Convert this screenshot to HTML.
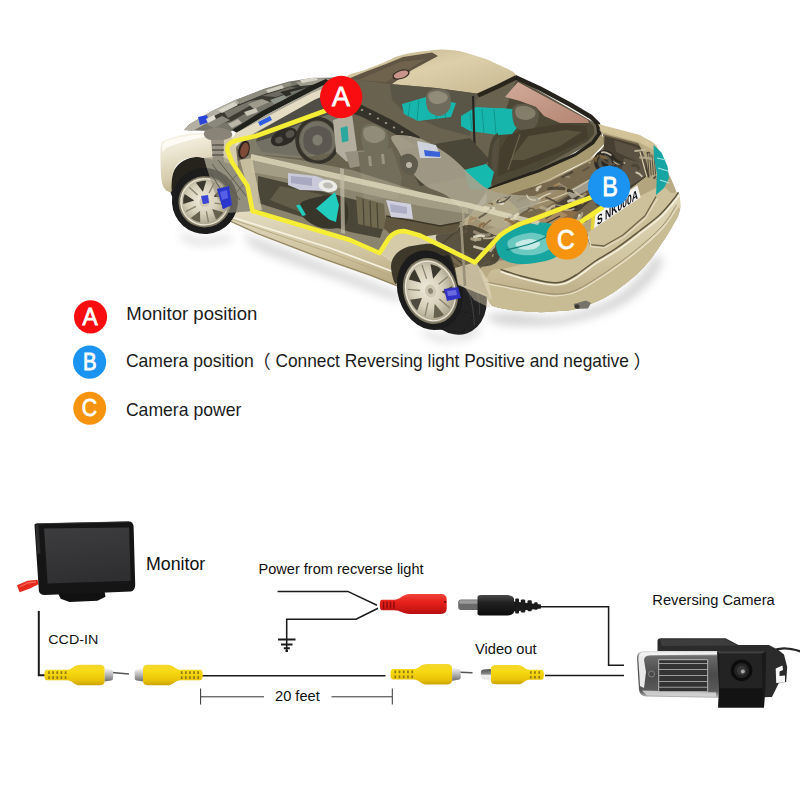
<!DOCTYPE html>
<html lang="en">
<head>
<meta charset="utf-8">
<title>Reversing camera wiring diagram</title>
<style>
html,body{margin:0;padding:0;background:#fff;}
body{width:800px;height:800px;overflow:hidden;font-family:"Liberation Sans",sans-serif;}
svg{display:block;}
.lg{font-family:"Liberation Sans",sans-serif;font-size:18.2px;fill:#1c1c1c;}
.cj{font-family:"Liberation Sans","Noto Sans CJK SC",sans-serif;}
.dg{font-family:"Liberation Sans",sans-serif;fill:#111;}
.bd{font-family:"Liberation Sans",sans-serif;fill:#fff;stroke:#fff;stroke-width:0.8;text-anchor:middle;}
</style>
</head>
<body>
<svg width="800" height="800" viewBox="0 0 800 800">
<defs>
<linearGradient id="gy" x1="0" y1="0" x2="0" y2="1">
<stop offset="0" stop-color="#f3d730"/><stop offset="0.35" stop-color="#f7da12"/><stop offset="0.75" stop-color="#eac408"/><stop offset="1" stop-color="#c9a306"/>
</linearGradient>
<linearGradient id="gr" x1="0" y1="0" x2="0" y2="1">
<stop offset="0" stop-color="#f0453a"/><stop offset="0.4" stop-color="#e8211c"/><stop offset="1" stop-color="#b90f10"/>
</linearGradient>
<linearGradient id="gk" x1="0" y1="0" x2="0" y2="1">
<stop offset="0" stop-color="#4a4a4a"/><stop offset="0.35" stop-color="#232323"/><stop offset="1" stop-color="#0c0c0c"/>
</linearGradient>
<linearGradient id="gs" x1="0" y1="0" x2="0" y2="1">
<stop offset="0" stop-color="#f4f4f4"/><stop offset="0.45" stop-color="#bdbdbd"/><stop offset="1" stop-color="#6e6e6e"/>
</linearGradient>
<g id="rca">
<path d="M2 -5.200 L22 -5.200 C28 -5.200 29 -10.300 36 -10.300 L55 -10.300 Q60.500 -10.300 60.500 -6 L60.500 6 Q60.500 10.300 55 10.300 L36 10.300 C29 10.300 28 5.200 22 5.200 L2 5.200 Q-0.500 5.200 -0.500 0 Q-0.500 -5.200 2 -5.200 Z" fill="url(#gy)"/>
<g stroke="#8f7a14" stroke-width="1.700">
<path d="M4.200 -3.700V-1M8.400 -3.700V-1M12.600 -3.700V-1M16.800 -3.700V-1M21 -3.700V-1"/>
<path d="M4.200 1.300V4M8.400 1.300V4M12.600 1.300V4M16.800 1.300V4M21 1.300V4"/>
</g>
<path d="M60.500 -6.500 L67 -5.500 Q69 -5 69 -3 L69 3 Q69 5 67 5.500 L60.500 6.500 Z" fill="url(#gs)"/>
</g>
<linearGradient id="glens" x1="0" y1="0" x2="0" y2="1">
<stop offset="0" stop-color="#e8e8e8"/><stop offset="0.12" stop-color="#6a6a6a"/><stop offset="0.5" stop-color="#4a4a4a"/><stop offset="0.85" stop-color="#5a5a5a"/><stop offset="1" stop-color="#c9c9c9"/>
</linearGradient>
<filter id="blur5" x="-20%" y="-20%" width="140%" height="140%"><feGaussianBlur stdDeviation="5"/></filter>
<filter id="soft" x="-5%" y="-5%" width="110%" height="110%"><feGaussianBlur stdDeviation="0.55"/></filter>
<linearGradient id="groof" x1="0" y1="0" x2="1" y2="1">
<stop offset="0" stop-color="#c0b18a"/><stop offset="0.45" stop-color="#dccfaa"/><stop offset="1" stop-color="#c6b78f"/>
</linearGradient>
<linearGradient id="gbody" x1="0" y1="0" x2="0" y2="1">
<stop offset="0" stop-color="#e0d7b8"/><stop offset="0.5" stop-color="#d3c8a4"/><stop offset="1" stop-color="#b5a67e"/>
</linearGradient>
<linearGradient id="gsill" x1="0" y1="0" x2="0" y2="1">
<stop offset="0" stop-color="#e3dcc2"/><stop offset="0.6" stop-color="#cdc19c"/><stop offset="1" stop-color="#b3a57c"/>
</linearGradient>
<linearGradient id="gfender" x1="0" y1="0" x2="0.3" y2="1">
<stop offset="0" stop-color="#fbf9f1"/><stop offset="0.35" stop-color="#ece6d2"/><stop offset="0.75" stop-color="#d6ccac"/><stop offset="1" stop-color="#bdaf88"/>
</linearGradient>
<radialGradient id="grim" cx="0.45" cy="0.45" r="0.55">
<stop offset="0" stop-color="#efeadb"/><stop offset="0.55" stop-color="#d6cfb9"/><stop offset="1" stop-color="#a8a089"/>
</radialGradient>
<clipPath id="cfw"><path d="M160 150 L171 184 L172.500 176 L176 166 L184 159.500 L196 157 L207 158.500 L222 157 L234 166 L240 186 L241 214 L236 226 L240 260 L150 260 Z"/></clipPath>
<clipPath id="crw"><path d="M380 262 L394 266 L397 256 L404 249 L415 245.500 L430 244 L445 248 L452 262 L457 283 L490 297 L500 300 L500 340 L380 340 Z"/></clipPath>
<g id="fwheel" clip-path="url(#cfw)"><g transform="rotate(-4 204.7 201.8)"><ellipse cx="205" cy="201" rx="33" ry="33" fill="#1a1a1a"/><ellipse cx="204.7" cy="201.8" rx="26.3" ry="25.6" fill="#7f7864"/><ellipse cx="204.7" cy="201.8" rx="24.721999999999998" ry="24.064" fill="url(#grim)"/><path d="M211.7 209.4 L222.6 213.5 L221.3 215.2 L219.9 216.7 L218.3 218.1 L216.6 219.3 L214.8 220.3 Z" fill="#66614f"/><path d="M205.7 211.5 L207.0 222.7" stroke="#8a836e" stroke-width="1.3"/><path d="M199.4 210.7 L198.8 222.0 L196.8 221.3 L194.8 220.5 L193.0 219.4 L191.3 218.3 L189.7 216.9 Z" fill="#66614f"/><path d="M195.6 205.8 L185.0 210.3" stroke="#8a836e" stroke-width="1.3"/><path d="M194.4 199.7 L183.1 202.5 L183.2 200.5 L183.4 198.4 L183.8 196.4 L184.5 194.5 L185.3 192.6 Z" fill="#3b382f"/><path d="M198.0 194.6 L190.3 186.2" stroke="#8a836e" stroke-width="1.3"/><path d="M203.6 191.6 L197.3 182.1 L199.3 181.5 L201.4 181.1 L203.5 180.8 L205.6 180.8 L207.7 181.0 Z" fill="#3b382f"/><path d="M209.7 193.4 L215.5 183.6" stroke="#8a836e" stroke-width="1.3"/><path d="M214.3 197.6 L221.7 188.9 L222.9 190.6 L223.9 192.3 L224.8 194.2 L225.5 196.2 L225.9 198.2 Z" fill="#3b382f"/><path d="M214.5 203.8 L225.8 206.2" stroke="#8a836e" stroke-width="1.3"/><ellipse cx="204.7" cy="201.8" rx="23.67" ry="23.040000000000003" fill="none" stroke="#f3efe2" stroke-width="1.1" opacity="0.9"/><ellipse cx="204.7" cy="201.8" rx="5.260000000000001" ry="5.120000000000001" fill="#cfc8b2"/><ellipse cx="204.7" cy="201.8" rx="2.367" ry="2.304" fill="#8d8674"/></g><path d="M217 189 L229 186 L232 205 L223 209 Z" fill="#2b35cc"/><path d="M201 196 L208 195 L209 203 L203 204 Z" fill="#3a45d8"/></g>
<g id="rwheel" clip-path="url(#crw)"><g transform="rotate(-18 454 295)"><ellipse cx="454" cy="295" rx="32" ry="40.500" fill="#202020"/></g><path d="M436 329 L462 333 L474 314 L444 308 Z" fill="#202020"/><g transform="rotate(-18 430.5 291)"><ellipse cx="430" cy="290" rx="32" ry="40.5" fill="#1a1a1a"/><ellipse cx="430.5" cy="291" rx="27" ry="33.5" fill="#7f7864"/><ellipse cx="430.5" cy="291" rx="25.38" ry="31.49" fill="url(#grim)"/><path d="M440.8 295.1 L452.6 292.9 L452.3 295.6 L451.9 298.2 L451.2 300.8 L450.3 303.2 L449.3 305.6 Z" fill="#4f4b3f"/><path d="M436.5 301.3 L443.5 313.2" stroke="#8a836e" stroke-width="1.3"/><path d="M430.5 304.4 L435.9 317.7 L433.7 318.2 L431.6 318.4 L429.4 318.4 L427.3 318.2 L425.1 317.7 Z" fill="#66614f"/><path d="M424.5 301.3 L417.5 313.2" stroke="#8a836e" stroke-width="1.3"/><path d="M420.2 295.1 L411.7 305.6 L410.7 303.2 L409.8 300.8 L409.1 298.2 L408.7 295.6 L408.4 292.9 Z" fill="#4f4b3f"/><path d="M420.7 287.1 L409.4 282.5" stroke="#8a836e" stroke-width="1.3"/><path d="M424.2 280.2 L413.5 273.3 L415.0 271.4 L416.6 269.6 L418.4 268.0 L420.2 266.7 L422.2 265.5 Z" fill="#3b382f"/><path d="M430.5 278.3 L430.5 263.5" stroke="#8a836e" stroke-width="1.3"/><path d="M436.8 280.2 L438.8 265.5 L440.8 266.7 L442.6 268.0 L444.4 269.6 L446.0 271.4 L447.5 273.3 Z" fill="#3b382f"/><path d="M440.3 287.1 L451.6 282.5" stroke="#8a836e" stroke-width="1.3"/><ellipse cx="430.5" cy="291" rx="24.3" ry="30.150000000000002" fill="none" stroke="#f3efe2" stroke-width="1.1" opacity="0.9"/><ellipse cx="430.5" cy="291" rx="5.4" ry="6.7" fill="#cfc8b2"/><ellipse cx="430.5" cy="291" rx="2.4299999999999997" ry="3.0149999999999997" fill="#8d8674"/></g><path d="M444 289 L458 287 L461 298 L447 301 Z" fill="#3232c4"/><path d="M447 291 L456 290 L457 295 L448 296 Z" fill="#6a6ae0"/><g fill="none" stroke="#3a3a3a" stroke-width="1.3" transform="rotate(-18 454 295)"><path d="M472 270 Q482 296 472 322"/><path d="M464 264 Q474 296 464 330"/></g></g>
<linearGradient id="gpink" x1="0" y1="0" x2="1" y2="1"><stop offset="0" stop-color="#d2aa9a"/><stop offset="1" stop-color="#b48572"/></linearGradient>
<clipPath id="ctrunk"><path d="M442 238 L470 212 L489 203 L550 182 L592 161 L604 146 L603 134 L638 143 L651 153 L657 180 L646 177 L590 214 L587 222 L560 230 L540 222 L512 228 L497 238 L492 262 L478 270 L458 286 L450 262 Z"/></clipPath>
<linearGradient id="gscreen" x1="0" y1="0" x2="0.2" y2="1"><stop offset="0" stop-color="#3d3d40"/><stop offset="1" stop-color="#2f2f31"/></linearGradient>
<g id="rca2">
<path d="M2 -5.200 L14 -5.200 C19 -5.200 20 -10 26 -10 L47 -10 Q52.500 -10 52.500 -6 L52.500 6 Q52.500 10 47 10 L26 10 C20 10 19 5.200 14 5.200 L2 5.200 Q-0.500 5.200 -0.500 0 Q-0.500 -5.200 2 -5.200 Z" fill="url(#gy)"/>
<g stroke="#8f7a14" stroke-width="1.700">
<path d="M4.200 -3.700V-1M8.400 -3.700V-1M12.600 -3.700V-1"/>
<path d="M4.200 1.300V4M8.400 1.300V4M12.600 1.300V4"/>
</g>
<path d="M52.500 -6 L60 -5.500 Q62.500 -5 62.500 -3 L62.500 2.500 Q62.500 4.500 60 4.800 L52.500 5.500 Z" fill="url(#gs2)"/>
</g>
<linearGradient id="gs2" x1="0" y1="0" x2="0" y2="1"><stop offset="0" stop-color="#4a4a4a"/><stop offset="0.45" stop-color="#8a8a8a"/><stop offset="0.6" stop-color="#f2f2f2"/><stop offset="1" stop-color="#e2e2e2"/></linearGradient>
</defs>
<rect width="800" height="800" fill="#fff"/>
<g id="car">
<g filter="url(#blur5)">
<path d="M246.0 234.0 C246.7 232.3 248.0 234.7 262.0 240.0 C276.0 245.3 307.7 257.3 330.0 266.0 C352.3 274.7 385.0 286.3 396.0 292.0 C407.0 297.7 407.0 302.5 396.0 300.0 C385.0 297.5 353.0 285.3 330.0 277.0 C307.0 268.7 272.0 257.2 258.0 250.0 C244.0 242.8 245.3 235.7 246.0 234.0 Z" fill="#d9d9d9" />
<path d="M486.0 316.0 C486.7 314.0 497.7 313.0 510.0 313.0 C522.3 313.0 543.3 318.2 560.0 316.0 C576.7 313.8 596.7 306.7 610.0 300.0 C623.3 293.3 632.3 283.3 640.0 276.0 C647.7 268.7 652.3 258.3 656.0 256.0 C659.7 253.7 663.3 257.3 662.0 262.0 C660.7 266.7 655.7 276.3 648.0 284.0 C640.3 291.7 630.3 301.3 616.0 308.0 C601.7 314.7 580.3 321.2 562.0 324.0 C543.7 326.8 518.7 326.3 506.0 325.0 C493.3 323.7 485.3 318.0 486.0 316.0 Z" fill="#d4d4d4" />
<path d="M182.0 233.0 C184.7 232.8 192.3 238.5 200.0 239.0 C207.7 239.5 223.0 235.7 228.0 236.0 C233.0 236.3 234.7 239.5 230.0 241.0 C225.3 242.5 207.7 245.2 200.0 245.0 C192.3 244.8 187.0 242.0 184.0 240.0 C181.0 238.0 179.3 233.2 182.0 233.0 Z" fill="#dcdcdc" />
<path d="M420.0 330.0 C421.7 329.3 440.0 337.7 450.0 337.0 C460.0 336.3 476.7 326.0 480.0 326.0 C483.3 326.0 476.7 334.5 470.0 337.0 C463.3 339.5 448.3 342.2 440.0 341.0 C431.7 339.8 418.3 330.7 420.0 330.0 Z" fill="#d0d0d0" />
</g>
<g filter="url(#soft)">
<path d="M184.0 130.0 L189.0 124.5 L212.0 111.0 L234.0 100.5 L265.0 88.5 L289.0 81.5 L312.0 78.0 L335.0 77.5 L322.0 92.0 L300.0 98.0 L280.0 104.0 L262.0 112.0 L238.0 128.0 L230.0 132.0 L208.0 131.0 Z" fill="#76746a" />
<path d="M184.0 130.0 L189.0 124.5 L212.0 111.0 L234.0 100.5 L250.0 95.0 L254.0 98.5 L236.0 107.0 L216.0 118.0 L200.0 127.0 L192.0 131.0 Z" fill="#b3b0a3" />
<path d="M214.0 116.0 L240.0 103.0 L270.0 92.0 L300.0 84.0 L318.0 81.0 L310.0 89.0 L280.0 98.0 L255.0 108.0 L232.0 121.0 L216.0 125.0 Z" fill="#3a3a33" />
<path d="M224.0 112.0 L250.0 101.0 L262.0 99.0 L246.0 108.0 L228.0 118.0 Z" fill="#77756a" />
<path d="M262.0 96.0 L290.0 87.0 L300.0 88.0 L276.0 97.0 Z" fill="#6c6a60" />
<path d="M198.0 117.0 L207.0 115.0 L209.0 122.0 L200.0 125.0 Z" fill="#2a45d8" />
<path d="M236.0 100.0 L262.0 90.0 L290.0 82.0 L292.0 85.0 L264.0 94.0 L240.0 104.0 Z" fill="#8f8d80" />
<path d="M296.0 82.0 L320.0 78.0 L330.0 79.0 L322.0 84.0 L300.0 86.0 Z" fill="#a19e90" />
<path d="M206.0 124.0 L222.0 116.0 L230.0 120.0 L214.0 128.0 Z" fill="#8a887b" />
<path d="M248.0 104.0 L262.0 99.0 L270.0 102.0 L254.0 109.0 Z" fill="#9e9b8d" />
<path d="M280.0 92.0 L300.0 87.0 L304.0 90.0 L286.0 96.0 Z" fill="#2e2e28" />
<path d="M244.0 112.0 L256.0 108.0 L258.0 112.0 L247.0 116.0 Z" fill="#c9c6b8" />
<path d="M218.0 110.0 L234.0 102.0 L238.0 105.0 L222.0 113.0 Z" fill="#d5d2c6" />
<path d="M266.0 90.0 L282.0 85.0 L284.0 88.0 L268.0 93.0 Z" fill="#cfccbf" />
<path d="M300.0 80.0 L316.0 77.0 L318.0 80.0 L302.0 83.0 Z" fill="#d8d5c8" />
<path d="M228.0 124.0 L238.0 119.0 L242.0 123.0 L232.0 128.0 Z" fill="#b9b6a8" />
<path d="M270.0 100.0 L284.0 95.0 L288.0 99.0 L274.0 104.0 Z" fill="#8f9488" />
<path d="M290.0 92.0 L306.0 88.0 L308.0 92.0 L292.0 96.0 Z" fill="#6f7468" />
<path d="M206.0 119.0 L214.0 115.0 L216.0 119.0 L208.0 123.0 Z" fill="#e2dfd4" />
<path d="M232.0 130.0 L262.0 111.0 L310.0 86.0 L326.0 79.0 L330.0 82.0 L312.0 91.0 L266.0 115.0 L237.0 133.0 Z" fill="#23231f" />
<path d="M236.0 133.0 L266.0 115.0 L312.0 91.0 L330.0 82.0 L332.0 85.0 L313.0 95.0 L268.0 119.0 L240.0 136.0 Z" fill="#a5a294" />
<path d="M347.0 77.0 C347.0 73.6 357.1 73.0 366.0 69.5 C374.9 66.0 376.6 65.4 385.0 62.0 C393.4 58.6 391.5 57.7 402.0 55.0 C412.5 52.3 418.8 51.7 430.0 50.5 C441.2 49.3 440.7 49.2 450.0 50.0 C459.3 50.8 459.0 50.7 470.0 54.0 C481.0 57.3 486.0 58.6 497.0 64.0 C508.0 69.4 516.3 71.6 517.0 77.0 C517.7 82.4 508.9 82.8 500.0 87.0 C491.1 91.2 493.9 94.3 479.0 95.0 C464.1 95.7 456.8 92.3 436.0 90.0 C415.2 87.7 406.3 86.4 390.0 85.0 C373.7 83.6 376.0 85.9 366.0 84.0 C356.0 82.1 347.0 80.4 347.0 77.0 Z" fill="url(#groof)" />
<path d="M349.0 78.5 L366.0 71.5 L386.0 64.0 L403.0 57.0 L432.0 52.5 L438.0 56.0 L412.0 70.0 L392.0 84.0 L368.0 84.0 L354.0 82.0 Z" fill="#5f5442" />
<path d="M358.0 80.0 L400.0 62.0 L426.0 59.0 L404.0 72.0 L386.0 82.0 Z" fill="#6f634d" />
<ellipse cx="401.0" cy="74.5" rx="9.0" ry="4.6" fill="#3a2f28" transform="rotate(-18 401.0 74.5)" />
<ellipse cx="401.0" cy="74.5" rx="7.5" ry="3.4" fill="#c9958a" transform="rotate(-18 401.0 74.5)" />
<path d="M232.0 142.0 L312.0 96.0 L345.0 78.0 L390.0 84.0 L436.0 88.0 L480.0 94.0 L517.0 78.0 L600.0 126.0 L600.0 138.0 L540.0 172.0 L488.0 190.0 L470.0 215.0 L455.0 232.0 L420.0 237.0 L405.0 231.0 L390.0 238.0 L380.0 253.0 L350.0 240.0 L252.0 211.0 L247.0 186.0 L232.0 160.0 L228.0 150.0 Z" fill="#686250" />
<path d="M390.0 84.0 L436.0 88.0 L480.0 94.0 L476.0 100.0 L470.0 136.0 L440.0 128.0 L404.0 112.0 L392.0 100.0 Z" fill="#5a5646" />
<path d="M238.0 139.0 L312.0 97.0 L340.0 84.0 L356.0 98.0 L352.0 118.0 L348.0 150.0 L300.0 158.0 L251.0 154.0 L236.0 148.0 Z" fill="#807b6b" />
<path d="M258.0 132.0 L312.0 100.0 L338.0 91.0 L346.0 103.0 L334.0 113.0 L300.0 124.0 L270.0 138.0 L256.0 142.0 Z" fill="#504d44" />
<path d="M256.0 142.0 L270.0 138.0 L300.0 124.0 L334.0 113.0 L340.0 122.0 L338.0 152.0 L300.0 156.0 L262.0 152.0 Z" fill="#727062" />
<ellipse cx="284.0" cy="137.0" rx="14.0" ry="8.0" fill="#2f2c26" transform="rotate(-25 284.0 137.0)" />
<ellipse cx="279.0" cy="140.0" rx="4.0" ry="3.2" fill="#55524a" transform="rotate(-25 279.0 140.0)" />
<ellipse cx="290.0" cy="134.0" rx="4.5" ry="3.6" fill="#55524a" transform="rotate(-25 290.0 134.0)" />
<ellipse cx="317.5" cy="140.5" rx="20.0" ry="21.5" fill="none" transform="rotate(-8 317.5 140.5)" stroke="#36332b" stroke-width="4.4"/>
<ellipse cx="317.5" cy="140.5" rx="18.0" ry="19.5" fill="none" transform="rotate(-8 317.5 140.5)" stroke="#6a6657" stroke-width="0.9"/>
<path d="M305.0 132.0 C307.2 128.2 313.8 126.0 318.0 126.0 C322.2 126.0 327.8 128.3 330.0 132.0 C332.2 135.7 333.0 144.2 331.0 148.0 C329.0 151.8 322.3 154.8 318.0 155.0 C313.7 155.2 307.2 152.8 305.0 149.0 C302.8 145.2 302.8 135.8 305.0 132.0 Z" fill="#5c5951" />
<ellipse cx="317.5" cy="140.0" rx="5.0" ry="5.5" fill="#7f7b70" />
<path d="M333.0 120.0 L352.0 114.0 L357.0 150.0 L347.0 162.0 L336.0 152.0 Z" fill="#b3ae9d" />
<path d="M340.5 128.0 L347.5 126.0 L348.5 141.0 L342.0 142.5 Z" fill="#2aa79e" />
<path d="M345.0 152.0 L368.0 150.0 L372.0 164.0 L350.0 168.0 Z" fill="#979080" />
<path d="M229.0 143.0 L236.0 133.0 L312.0 93.0 L332.0 85.0 L346.0 77.0 L350.0 80.0 L334.0 91.0 L314.0 100.0 L244.0 139.0 L236.0 147.0 Z" fill="#e4dcc2" />
<path d="M258.0 122.0 L270.0 116.0 L272.0 120.0 L260.0 126.0 Z" fill="#2f5fe0" />
<ellipse cx="244.0" cy="150.0" rx="5.5" ry="9.5" fill="#2c211b" transform="rotate(15 244.0 150.0)" />
<ellipse cx="244.5" cy="150.0" rx="4.0" ry="7.5" fill="#7d4b38" transform="rotate(15 244.5 150.0)" />
<path d="M402.0 104.0 L426.0 97.0 L456.0 103.0 L451.0 117.0 L418.0 121.0 L404.0 114.0 Z" fill="#17b6ac" />
<path d="M461.0 116.0 L476.0 107.0 L512.0 109.0 L520.0 118.0 L518.0 129.0 L498.0 135.0 L470.0 131.0 L461.0 126.0 Z" fill="#17b6ac" />
<path d="M410.0 103.0 L408.0 117.0" fill="none" stroke="#0f968d" stroke-width="1" />
<path d="M419.0 100.0 L417.0 120.0" fill="none" stroke="#0f968d" stroke-width="1" />
<path d="M438.0 100.0 L436.0 119.0" fill="none" stroke="#0f968d" stroke-width="1" />
<path d="M447.0 102.0 L445.0 118.0" fill="none" stroke="#0f968d" stroke-width="1" />
<path d="M470.0 113.0 L472.0 130.0" fill="none" stroke="#0f968d" stroke-width="1" />
<path d="M482.0 109.0 L484.0 133.0" fill="none" stroke="#0f968d" stroke-width="1" />
<path d="M494.0 109.0 L496.0 134.0" fill="none" stroke="#0f968d" stroke-width="1" />
<path d="M506.0 110.0 L508.0 131.0" fill="none" stroke="#0f968d" stroke-width="1" />
<path d="M427.0 93.0 C428.7 89.5 434.3 89.0 438.0 89.0 C441.7 89.0 447.0 89.8 449.0 93.0 C451.0 96.2 451.5 104.2 450.0 108.0 C448.5 111.8 443.7 115.7 440.0 116.0 C436.3 116.3 430.2 113.8 428.0 110.0 C425.8 106.2 425.3 96.5 427.0 93.0 Z" fill="#6e6a5b" />
<path d="M429.0 94.0 C430.3 92.3 435.0 90.8 438.0 91.0 C441.0 91.2 445.7 93.3 447.0 95.0 C448.3 96.7 447.7 99.5 446.0 101.0 C444.3 102.5 439.7 104.0 437.0 104.0 C434.3 104.0 431.3 102.7 430.0 101.0 C428.7 99.3 427.7 95.7 429.0 94.0 Z" fill="#918c7a" />
<path d="M473.0 96.0 L474.5 146.0" fill="none" stroke="#2a2720" stroke-width="2.2" />
<path d="M362.0 128.0 C363.7 123.7 370.0 123.7 374.0 124.0 C378.0 124.3 383.7 126.0 386.0 130.0 C388.3 134.0 389.3 143.7 388.0 148.0 C386.7 152.3 382.0 155.7 378.0 156.0 C374.0 156.3 366.7 154.7 364.0 150.0 C361.3 145.3 360.3 132.3 362.0 128.0 Z" fill="#726e5c" />
<path d="M364.0 129.0 C365.5 126.8 370.7 125.7 374.0 126.0 C377.3 126.3 382.3 128.8 384.0 131.0 C385.7 133.2 385.7 137.0 384.0 139.0 C382.3 141.0 377.2 143.0 374.0 143.0 C370.8 143.0 366.7 141.3 365.0 139.0 C363.3 136.7 362.5 131.2 364.0 129.0 Z" fill="#918c79" />
<path d="M358.0 152.0 L392.0 148.0 L402.0 178.0 L398.0 198.0 L364.0 200.0 Z" fill="#736e5c" />
<path d="M368.0 156.0 L371.0 156.0 L372.0 166.0 L369.0 166.0 Z" fill="#9a9482" />
<path d="M381.0 154.0 L384.0 154.0 L385.0 164.0 L382.0 164.0 Z" fill="#9a9482" />
<path d="M400.0 150.0 L470.0 138.0 L490.0 160.0 L470.0 176.0 L420.0 186.0 Z" fill="#4b4638" />
<path d="M494.0 136.0 C499.3 129.3 513.3 129.3 520.0 130.0 C526.7 130.7 532.0 133.3 534.0 140.0 C536.0 146.7 535.0 162.0 532.0 170.0 C529.0 178.0 521.7 184.3 516.0 188.0 C510.3 191.7 502.7 195.0 498.0 192.0 C493.3 189.0 488.7 179.3 488.0 170.0 C487.3 160.7 488.7 142.7 494.0 136.0 Z" fill="#4a4434" />
<path d="M496.0 140.0 C500.0 135.0 511.0 135.0 516.0 136.0 C521.0 137.0 524.7 140.3 526.0 146.0 C527.3 151.7 526.3 163.3 524.0 170.0 C521.7 176.7 516.0 183.7 512.0 186.0 C508.0 188.3 503.3 187.3 500.0 184.0 C496.7 180.7 492.7 173.3 492.0 166.0 C491.3 158.7 492.0 145.0 496.0 140.0 Z" fill="#575040" />
<path d="M464.0 170.0 L486.0 164.0 L494.0 172.0 L490.0 188.0 L470.0 190.0 Z" fill="#19b9ae" />
<path d="M517.0 80.0 L588.0 120.0 L594.0 127.0 L594.0 134.0 L588.0 141.0 L540.0 168.0 L492.0 187.0 L498.0 160.0 L500.0 134.0 L506.0 110.0 L512.0 90.0 Z" fill="#4d4634" />
<path d="M505.0 97.0 L518.0 82.0 L588.0 120.0 L589.0 123.0 L560.0 123.0 L544.0 116.0 L536.0 107.0 L520.0 101.0 Z" fill="url(#gpink)" />
<path d="M498.0 108.0 L514.0 109.0 L520.0 124.0 L512.0 134.0 L498.0 135.0 Z" fill="#17b6ac" />
<path d="M513.0 107.0 C514.8 103.3 521.8 103.5 526.0 104.0 C530.2 104.5 536.2 106.7 538.0 110.0 C539.8 113.3 538.7 120.5 537.0 124.0 C535.3 127.5 531.7 130.7 528.0 131.0 C524.3 131.3 517.5 130.0 515.0 126.0 C512.5 122.0 511.2 110.7 513.0 107.0 Z" fill="#5d5847" />
<path d="M516.0 108.0 C517.5 106.2 522.8 105.5 526.0 106.0 C529.2 106.5 533.7 109.2 535.0 111.0 C536.3 112.8 535.5 115.5 534.0 117.0 C532.5 118.5 528.8 120.0 526.0 120.0 C523.2 120.0 518.7 119.0 517.0 117.0 C515.3 115.0 514.5 109.8 516.0 108.0 Z" fill="#837d69" />
<path d="M522.0 130.0 L560.0 124.0 L586.0 126.0 L588.0 138.0 L560.0 152.0 L520.0 168.0 L498.0 176.0 L500.0 150.0 L508.0 136.0 Z" fill="#453e2d" />
<path d="M528.0 136.0 L566.0 130.0 L582.0 132.0 L560.0 146.0 L524.0 160.0 L510.0 160.0 Z" fill="#5a523d" />
<path d="M520.0 134.0 L508.0 170.0" fill="none" stroke="#6a624c" stroke-width="1.2" />
<path d="M478.0 95.5 L499.0 86.0 L516.0 77.5" fill="none" stroke="#2a261d" stroke-width="4.6" />
<path d="M515.0 77.0 L540.0 88.5 L570.0 104.5 L591.0 117.0 L598.0 124.0 L599.5 134.0 L593.0 143.0 L576.0 155.0 L540.0 171.0 L504.0 184.0 L489.0 190.0" fill="none" stroke="#25211a" stroke-width="4.4" stroke-linejoin="round"/>
<path d="M487.0 190.0 L540.0 172.0 L576.0 156.0 L594.0 144.0 L601.0 134.0 L606.0 142.0 L590.0 159.0 L550.0 179.0 L504.0 199.0 L486.0 206.0 Z" fill="#a6996f" />
<path d="M455.0 232.0 C454.0 224.2 464.5 219.8 470.0 215.0 C475.5 210.2 482.3 205.8 488.0 203.0 C493.7 200.2 493.7 202.0 504.0 198.0 C514.3 194.0 535.7 185.5 550.0 179.0 C564.3 172.5 580.7 165.2 590.0 159.0 C599.3 152.8 604.2 147.2 606.0 142.0 C607.8 136.8 595.3 128.8 601.0 128.0 C606.7 127.2 630.8 134.0 640.0 137.0 C649.2 140.0 651.3 140.2 656.0 146.0 C660.7 151.8 664.3 163.7 668.0 172.0 C671.7 180.3 676.0 189.7 678.0 196.0 C680.0 202.3 681.0 204.8 680.0 210.0 C679.0 215.2 674.7 222.0 672.0 227.0 C669.3 232.0 667.7 234.5 664.0 240.0 C660.3 245.5 654.7 254.2 650.0 260.0 C645.3 265.8 641.5 270.0 636.0 275.0 C630.5 280.0 623.0 285.8 617.0 290.0 C611.0 294.2 606.8 296.8 600.0 300.0 C593.2 303.2 582.7 307.2 576.0 309.0 C569.3 310.8 566.8 310.5 560.0 311.0 C553.2 311.5 545.0 312.5 535.0 312.0 C525.0 311.5 507.8 310.0 500.0 308.0 C492.2 306.0 492.0 307.7 488.0 300.0 C484.0 292.3 481.5 273.3 476.0 262.0 C470.5 250.7 456.0 239.8 455.0 232.0 Z" fill="#b9ab84" />
<path d="M489.0 201.0 L550.0 181.0 L592.0 160.0 L604.0 146.0 L603.0 134.0 L638.0 143.0 L651.0 153.0 L654.0 166.0 L657.0 180.0 L646.0 177.0 L590.0 214.0 L587.0 222.0 L560.0 230.0 L540.0 222.0 L512.0 228.0 L497.0 238.0 L476.0 262.0 L462.0 248.0 L470.0 215.0 Z" fill="#75684d" />
<path d="M605.0 136.0 L638.0 145.0 L650.0 155.0 L652.0 178.0 L640.0 184.0 L618.0 198.0 L598.0 206.0 L590.0 190.0 L602.0 166.0 Z" fill="#463f33" />
<ellipse cx="605.0" cy="162.0" rx="11.0" ry="12.0" fill="#2f2b25" transform="rotate(-20 605.0 162.0)" />
<path d="M614.0 140.0 L636.0 147.0 L646.0 157.0 L646.0 168.0 L634.0 160.0 L616.0 152.0 Z" fill="#5a5142" />
<ellipse cx="605.0" cy="163.0" rx="7.0" ry="8.0" fill="#57524a" transform="rotate(-20 605.0 163.0)" />
<ellipse cx="605.0" cy="163.0" rx="3.5" ry="4.0" fill="#2a2722" transform="rotate(-20 605.0 163.0)" />
<path d="M624.0 158.0 L644.0 164.0 L646.0 176.0 L630.0 186.0 L620.0 176.0 Z" fill="#5e5647" />
<path d="M556.0 204.0 L590.0 182.0 L594.0 198.0 L580.0 210.0 L556.0 222.0 L540.0 224.0 Z" fill="#4a4236" />
<path d="M516.0 226.0 L552.0 206.0 L578.0 212.0 L560.0 230.0 L530.0 242.0 L503.0 246.0 Z" fill="#8a6c48" />
<path d="M532.0 220.0 L556.0 209.0 L568.0 215.0 L546.0 227.0 Z" fill="#a98b63" />
<path d="M528.0 198.0 L560.0 186.0 L572.0 192.0 L548.0 206.0 L528.0 212.0 Z" fill="#9b8a68" />
<path d="M498.0 206.0 L528.0 196.0 L530.0 210.0 L508.0 222.0 L492.0 226.0 Z" fill="#6b6048" />
<path d="M480.0 232.0 L506.0 224.0 L512.0 236.0 L490.0 250.0 L476.0 252.0 Z" fill="#988e78" />
<path d="M500.0 240.0 L540.0 232.0 L556.0 244.0 L520.0 258.0 L490.0 262.0 Z" fill="#8d8676" />
<path d="M566.0 192.0 L588.0 180.0 L592.0 188.0 L572.0 199.0 Z" fill="#a39c8c" />
<path d="M500.0 214.0 C510.0 211.0 544.0 202.3 560.0 196.0 C576.0 189.7 590.0 179.3 596.0 176.0" fill="none" stroke="#cfc6a8" stroke-width="1.2" />
<path d="M486.0 244.0 C491.7 242.7 507.7 240.7 520.0 236.0 C532.3 231.3 553.3 219.3 560.0 216.0" fill="none" stroke="#3d362b" stroke-width="1.2" />
<path d="M598.0 124.0 L640.0 135.0 L656.0 145.0 L660.0 152.0 L653.0 152.0 L638.0 142.0 L602.0 132.0 Z" fill="#d2c399" />
<path d="M638.0 142.0 L654.0 150.0 L660.0 178.0 L650.0 180.0 L646.0 160.0 Z" fill="#bcae86" opacity="0.9"/>
<path d="M640.0 152.0 L647.0 177.0" fill="none" stroke="#d9cda6" stroke-width="1.2" />
<path d="M647.5 152.0 L649.0 176.0" fill="none" stroke="#4a4336" stroke-width="0.9" />
<path d="M649.7 153.2 L651.2 175.5" fill="none" stroke="#4a4336" stroke-width="0.9" />
<path d="M651.9 154.4 L653.4 175.0" fill="none" stroke="#4a4336" stroke-width="0.9" />
<path d="M654.1 155.6 L655.6 174.5" fill="none" stroke="#4a4336" stroke-width="0.9" />
<path d="M587.0 222.0 L646.0 177.0 L657.0 180.0 L671.0 193.0 L678.5 192.4 L672.5 200.6 L658.8 215.8 L639.5 231.0 L617.5 247.4 L595.5 261.0 L576.0 275.0 L562.5 281.8 L548.8 282.3 L521.0 276.0 L500.6 269.4 L520.0 265.0 L550.0 259.0 L562.0 246.0 L566.0 232.0 Z" fill="#cdc19b" />
<path d="M587.0 222.0 L646.0 177.0 L657.0 180.0 L660.0 186.0 L640.0 196.0 L600.0 224.0 L580.0 238.0 L566.0 236.0 Z" fill="#b3a57d" />
<path d="M587.0 233.6 L590.0 244.6 L603.8 246.0 L623.0 235.0 L645.0 215.8 L656.0 196.5" fill="none" stroke="#6f6348" stroke-width="1.3" stroke-linejoin="round"/>
<path d="M588.0 235.6 L591.0 246.6 L604.5 248.0 L624.0 237.0 L646.0 217.8 L657.5 198.5" fill="none" stroke="#e6dec4" stroke-width="1.2" stroke-linejoin="round"/>
<path d="M352.0 103.0 L362.0 105.0 L392.0 120.0 L420.0 137.0 L416.0 146.0 L388.0 130.0 L360.0 116.0 L350.0 113.0 Z" fill="#35322a" />
<ellipse cx="362.0" cy="110.0" rx="1.3" ry="1.1" fill="#9c9684" />
<ellipse cx="370.0" cy="114.0" rx="1.3" ry="1.1" fill="#9c9684" />
<ellipse cx="378.0" cy="118.5" rx="1.3" ry="1.1" fill="#9c9684" />
<ellipse cx="386.0" cy="123.0" rx="1.3" ry="1.1" fill="#9c9684" />
<ellipse cx="394.0" cy="127.5" rx="1.3" ry="1.1" fill="#9c9684" />
<ellipse cx="402.0" cy="132.0" rx="1.3" ry="1.1" fill="#9c9684" />
<ellipse cx="410.0" cy="137.0" rx="1.3" ry="1.1" fill="#9c9684" />
<path d="M392.0 136.0 C395.3 134.0 408.3 134.7 418.0 138.0 C427.7 141.3 438.0 147.3 450.0 156.0 C462.0 164.7 475.0 183.0 490.0 190.0 C505.0 197.0 535.0 194.0 540.0 198.0 C545.0 202.0 526.7 209.0 520.0 214.0 C513.3 219.0 508.3 227.8 500.0 228.0 C491.7 228.2 478.8 220.3 470.0 215.0 C461.2 209.7 454.3 200.8 447.0 196.0 C439.7 191.2 432.2 190.3 426.0 186.0 C419.8 181.7 414.7 176.0 410.0 170.0 C405.3 164.0 401.0 155.7 398.0 150.0 C395.0 144.3 388.7 138.0 392.0 136.0 Z" fill="#aaa38d" opacity="0.88"/>
<path d="M417.0 141.0 L436.0 145.0 L441.0 158.0 L420.0 158.0 Z" fill="#cdd2dc" />
<path d="M424.0 150.0 L440.0 152.0 L440.0 157.0 L425.0 156.0 Z" fill="#3b62d6" />
<path d="M400.0 158.0 C401.0 155.0 407.0 153.3 410.0 154.0 C413.0 154.7 417.3 158.7 418.0 162.0 C418.7 165.3 416.3 172.3 414.0 174.0 C411.7 175.7 406.3 174.7 404.0 172.0 C401.7 169.3 399.0 161.0 400.0 158.0 Z" fill="#5f5b4e" />
<ellipse cx="409.0" cy="165.0" rx="3.0" ry="3.0" fill="#b9b5a6" />
<path d="M420.0 237.0 C422.7 235.0 448.3 234.9 455.0 232.0 C461.7 229.1 465.6 218.9 470.0 215.0 C474.4 211.1 483.5 205.3 488.0 203.0 C492.5 200.7 499.7 196.5 504.0 198.0 C508.3 199.5 520.5 208.9 520.0 214.0 C519.5 219.1 505.9 229.6 500.0 236.0 C494.1 242.4 480.0 256.7 476.0 262.0 C472.0 267.3 472.8 276.7 470.0 276.0 C467.2 275.3 459.7 260.9 455.0 257.0 C450.3 253.1 439.7 249.7 435.0 247.0 C430.3 244.3 417.3 239.0 420.0 237.0 Z" fill="#bdb18d" opacity="0.6"/>
<path d="M463.0 206.0 L465.0 268.0" fill="none" stroke="#8e876f" stroke-width="2.4" />
<path d="M455.0 232.0 L440.0 246.0" fill="none" stroke="#7a735c" stroke-width="1.5" />
<path d="M436.0 236.0 C437.3 232.2 446.3 230.8 452.0 229.0 C457.7 227.2 463.7 224.3 470.0 225.0 C476.3 225.7 484.7 230.3 490.0 233.0 C495.3 235.7 500.8 236.2 502.0 241.0 C503.2 245.8 501.3 257.7 497.0 262.0 C492.7 266.3 482.5 266.8 476.0 267.0 C469.5 267.2 463.3 265.5 458.0 263.0 C452.7 260.5 447.7 256.5 444.0 252.0 C440.3 247.5 434.7 239.8 436.0 236.0 Z" fill="#3f3829" opacity="0.82"/>
<g clip-path="url(#ctrunk)">
<path d="M537.3 228.4 Q544.2 227.3 551.0 224.8" fill="none" stroke="#c9bea0" stroke-width="3.0" stroke-linecap="round" opacity="0.85"/>
<path d="M542.3 236.0 Q542.3 235.4 548.1 234.3" fill="none" stroke="#e8e2cc" stroke-width="2.6" stroke-linecap="round" opacity="0.85"/>
<path d="M568.0 205.5 Q573.6 207.3 576.9 207.1" fill="none" stroke="#2f2a20" stroke-width="1.3" stroke-linecap="round" opacity="0.85"/>
<path d="M447.7 273.1 Q451.4 275.2 457.9 275.7" fill="none" stroke="#a98a5c" stroke-width="2.3" stroke-linecap="round" opacity="0.85"/>
<path d="M577.7 220.0 Q581.3 222.5 588.5 217.0" fill="none" stroke="#4a4132" stroke-width="2.8" stroke-linecap="round" opacity="0.85"/>
<path d="M507.8 182.2 Q512.2 178.6 512.3 176.6" fill="none" stroke="#8a6a40" stroke-width="2.1" stroke-linecap="round" opacity="0.85"/>
<path d="M646.0 268.6 Q650.8 267.1 649.1 266.2" fill="none" stroke="#e8e2cc" stroke-width="2.1" stroke-linecap="round" opacity="0.85"/>
<path d="M455.7 238.1 Q457.7 233.4 466.3 231.4" fill="none" stroke="#5e5543" stroke-width="2.9" stroke-linecap="round" opacity="0.85"/>
<path d="M465.4 184.5 Q469.3 179.9 468.5 180.5" fill="none" stroke="#2f2a20" stroke-width="1.6" stroke-linecap="round" opacity="0.85"/>
<path d="M549.4 287.9 Q554.4 285.1 561.2 283.9" fill="none" stroke="#a98a5c" stroke-width="1.2" stroke-linecap="round" opacity="0.85"/>
<path d="M625.8 286.5 Q626.3 286.9 634.5 292.4" fill="none" stroke="#9b9078" stroke-width="2.6" stroke-linecap="round" opacity="0.85"/>
<path d="M461.6 288.5 Q466.4 285.4 466.9 285.0" fill="none" stroke="#8a6a40" stroke-width="2.0" stroke-linecap="round" opacity="0.85"/>
<path d="M456.0 179.2 Q458.0 175.6 462.1 170.1" fill="none" stroke="#c9bea0" stroke-width="3.3" stroke-linecap="round" opacity="0.85"/>
<path d="M544.0 230.4 Q546.4 229.3 554.3 221.6" fill="none" stroke="#9b9078" stroke-width="1.7" stroke-linecap="round" opacity="0.85"/>
<path d="M480.8 253.5 Q490.0 252.0 491.9 244.4" fill="none" stroke="#9b9078" stroke-width="1.4" stroke-linecap="round" opacity="0.85"/>
<path d="M450.2 165.3 Q456.1 161.7 458.2 159.9" fill="none" stroke="#5e5543" stroke-width="3.0" stroke-linecap="round" opacity="0.85"/>
<path d="M568.2 191.1 Q567.7 189.4 574.1 192.0" fill="none" stroke="#2f2a20" stroke-width="2.6" stroke-linecap="round" opacity="0.85"/>
<path d="M572.4 160.4 Q577.2 158.4 578.1 163.2" fill="none" stroke="#5e5543" stroke-width="2.2" stroke-linecap="round" opacity="0.85"/>
<path d="M453.0 174.7 Q454.1 173.2 461.0 174.0" fill="none" stroke="#b5aa8c" stroke-width="3.4" stroke-linecap="round" opacity="0.85"/>
<path d="M581.2 246.8 Q581.2 239.3 588.7 239.5" fill="none" stroke="#ded6bd" stroke-width="2.7" stroke-linecap="round" opacity="0.85"/>
<path d="M647.0 153.0 Q654.2 150.3 657.7 150.5" fill="none" stroke="#4a4132" stroke-width="1.4" stroke-linecap="round" opacity="0.85"/>
<path d="M557.4 253.2 Q565.9 256.8 571.1 255.7" fill="none" stroke="#ded6bd" stroke-width="2.0" stroke-linecap="round" opacity="0.85"/>
<path d="M587.3 276.1 Q596.0 276.8 600.1 271.7" fill="none" stroke="#9b9078" stroke-width="1.2" stroke-linecap="round" opacity="0.85"/>
<path d="M582.4 203.1 Q580.4 198.4 585.0 199.9" fill="none" stroke="#8a6a40" stroke-width="3.1" stroke-linecap="round" opacity="0.85"/>
<path d="M596.6 204.4 Q602.1 206.7 608.6 203.5" fill="none" stroke="#4a4132" stroke-width="2.3" stroke-linecap="round" opacity="0.85"/>
<path d="M550.6 193.4 Q555.7 188.3 553.5 189.4" fill="none" stroke="#9b9078" stroke-width="2.7" stroke-linecap="round" opacity="0.85"/>
<path d="M544.6 275.5 Q548.3 272.8 550.3 269.9" fill="none" stroke="#ded6bd" stroke-width="2.7" stroke-linecap="round" opacity="0.85"/>
<path d="M535.0 274.8 Q536.4 274.5 542.6 275.3" fill="none" stroke="#a98a5c" stroke-width="3.1" stroke-linecap="round" opacity="0.85"/>
<path d="M522.7 231.6 Q525.3 231.7 528.0 226.4" fill="none" stroke="#3a3327" stroke-width="2.8" stroke-linecap="round" opacity="0.85"/>
<path d="M644.3 188.8 Q645.3 185.7 649.9 187.1" fill="none" stroke="#5e5543" stroke-width="2.0" stroke-linecap="round" opacity="0.85"/>
<path d="M551.8 244.1 Q558.4 244.7 563.0 248.1" fill="none" stroke="#3a3327" stroke-width="1.8" stroke-linecap="round" opacity="0.85"/>
<path d="M570.6 245.0 Q575.0 244.0 577.1 242.0" fill="none" stroke="#6e5a3a" stroke-width="1.5" stroke-linecap="round" opacity="0.85"/>
<path d="M537.8 153.5 Q540.3 146.0 548.5 145.8" fill="none" stroke="#6e5a3a" stroke-width="1.5" stroke-linecap="round" opacity="0.85"/>
<path d="M463.4 225.0 Q465.1 220.3 473.6 220.6" fill="none" stroke="#b5aa8c" stroke-width="1.8" stroke-linecap="round" opacity="0.85"/>
<path d="M593.6 255.7 Q594.3 253.9 599.4 247.7" fill="none" stroke="#2f2a20" stroke-width="2.7" stroke-linecap="round" opacity="0.85"/>
<path d="M551.9 236.0 Q560.0 237.0 563.4 231.6" fill="none" stroke="#4a4132" stroke-width="2.1" stroke-linecap="round" opacity="0.85"/>
<path d="M631.9 204.3 Q638.5 197.5 638.9 198.7" fill="none" stroke="#2f2a20" stroke-width="2.5" stroke-linecap="round" opacity="0.85"/>
<path d="M629.1 261.5 Q637.2 257.4 643.0 257.9" fill="none" stroke="#e8e2cc" stroke-width="3.1" stroke-linecap="round" opacity="0.85"/>
<path d="M611.6 279.4 Q613.0 274.6 616.0 276.3" fill="none" stroke="#8a6a40" stroke-width="2.4" stroke-linecap="round" opacity="0.85"/>
<path d="M610.0 194.9 Q615.3 194.0 623.1 199.9" fill="none" stroke="#b5aa8c" stroke-width="2.0" stroke-linecap="round" opacity="0.85"/>
<path d="M530.6 188.5 Q539.2 183.7 541.8 180.0" fill="none" stroke="#3a3327" stroke-width="1.6" stroke-linecap="round" opacity="0.85"/>
<path d="M512.0 260.3 Q514.2 260.2 516.0 256.5" fill="none" stroke="#6e5a3a" stroke-width="2.7" stroke-linecap="round" opacity="0.85"/>
<path d="M643.3 219.0 Q645.8 213.7 652.7 208.0" fill="none" stroke="#8a6a40" stroke-width="3.0" stroke-linecap="round" opacity="0.85"/>
<path d="M560.7 173.0 Q563.1 176.5 569.4 177.2" fill="none" stroke="#9b9078" stroke-width="1.7" stroke-linecap="round" opacity="0.85"/>
<path d="M622.9 285.6 Q625.4 285.5 632.6 284.8" fill="none" stroke="#2f2a20" stroke-width="1.2" stroke-linecap="round" opacity="0.85"/>
<path d="M521.1 225.4 Q523.4 230.3 525.1 227.4" fill="none" stroke="#4a4132" stroke-width="2.3" stroke-linecap="round" opacity="0.85"/>
<path d="M588.6 159.2 Q596.9 161.0 597.9 155.9" fill="none" stroke="#8a6a40" stroke-width="1.7" stroke-linecap="round" opacity="0.85"/>
<path d="M546.0 197.6 Q555.5 201.1 558.2 204.2" fill="none" stroke="#4a4132" stroke-width="1.6" stroke-linecap="round" opacity="0.85"/>
<path d="M572.8 279.5 Q571.7 277.8 578.1 280.9" fill="none" stroke="#a98a5c" stroke-width="1.2" stroke-linecap="round" opacity="0.85"/>
<path d="M501.1 251.3 Q504.4 251.3 507.6 250.0" fill="none" stroke="#2f2a20" stroke-width="2.6" stroke-linecap="round" opacity="0.85"/>
<path d="M594.3 248.2 Q599.3 245.2 602.1 237.0" fill="none" stroke="#9b9078" stroke-width="1.6" stroke-linecap="round" opacity="0.85"/>
<path d="M483.9 238.4 Q492.2 238.4 494.8 236.7" fill="none" stroke="#c9bea0" stroke-width="1.7" stroke-linecap="round" opacity="0.85"/>
<path d="M599.3 263.5 Q603.9 263.5 611.5 256.9" fill="none" stroke="#a98a5c" stroke-width="2.9" stroke-linecap="round" opacity="0.85"/>
<path d="M481.8 163.6 Q483.4 157.8 491.5 153.8" fill="none" stroke="#5e5543" stroke-width="3.0" stroke-linecap="round" opacity="0.85"/>
<path d="M530.7 260.6 Q534.7 255.8 535.7 258.7" fill="none" stroke="#a98a5c" stroke-width="2.5" stroke-linecap="round" opacity="0.85"/>
<path d="M516.9 264.9 Q521.9 264.2 524.8 266.0" fill="none" stroke="#6e5a3a" stroke-width="3.0" stroke-linecap="round" opacity="0.85"/>
<path d="M612.6 217.5 Q615.6 221.2 616.8 218.4" fill="none" stroke="#b5aa8c" stroke-width="1.5" stroke-linecap="round" opacity="0.85"/>
<path d="M479.7 178.5 Q488.6 179.0 490.7 185.9" fill="none" stroke="#3a3327" stroke-width="1.5" stroke-linecap="round" opacity="0.85"/>
<path d="M586.4 160.9 Q588.2 158.8 591.1 159.0" fill="none" stroke="#a98a5c" stroke-width="2.5" stroke-linecap="round" opacity="0.85"/>
<path d="M442.8 248.1 Q447.5 245.7 452.9 239.5" fill="none" stroke="#5e5543" stroke-width="3.2" stroke-linecap="round" opacity="0.85"/>
<path d="M570.0 163.3 Q572.4 163.1 581.3 157.4" fill="none" stroke="#6e5a3a" stroke-width="3.3" stroke-linecap="round" opacity="0.85"/>
<path d="M562.5 176.7 Q569.3 172.7 571.9 172.2" fill="none" stroke="#4a4132" stroke-width="2.8" stroke-linecap="round" opacity="0.85"/>
<path d="M607.3 264.0 Q614.1 267.4 614.9 267.6" fill="none" stroke="#5e5543" stroke-width="2.9" stroke-linecap="round" opacity="0.85"/>
<path d="M527.2 251.2 Q529.1 246.2 531.5 249.1" fill="none" stroke="#ded6bd" stroke-width="3.4" stroke-linecap="round" opacity="0.85"/>
<path d="M634.1 156.9 Q635.5 156.5 640.1 160.5" fill="none" stroke="#5e5543" stroke-width="2.5" stroke-linecap="round" opacity="0.85"/>
<path d="M554.6 204.5 Q563.7 206.8 569.6 205.0" fill="none" stroke="#9b9078" stroke-width="1.3" stroke-linecap="round" opacity="0.85"/>
<path d="M572.3 253.4 Q571.9 249.8 578.7 251.0" fill="none" stroke="#5e5543" stroke-width="1.2" stroke-linecap="round" opacity="0.85"/>
<path d="M495.6 188.6 Q498.8 188.2 503.3 187.6" fill="none" stroke="#4a4132" stroke-width="2.6" stroke-linecap="round" opacity="0.85"/>
<path d="M614.0 160.7 Q615.6 165.2 624.4 162.9" fill="none" stroke="#c9bea0" stroke-width="2.0" stroke-linecap="round" opacity="0.85"/>
<path d="M648.6 269.8 Q653.0 269.5 658.5 269.3" fill="none" stroke="#8a6a40" stroke-width="2.4" stroke-linecap="round" opacity="0.85"/>
<path d="M568.5 201.2 Q572.6 199.6 575.7 201.5" fill="none" stroke="#e8e2cc" stroke-width="2.8" stroke-linecap="round" opacity="0.85"/>
<path d="M445.8 258.1 Q450.3 259.7 456.2 258.3" fill="none" stroke="#3a3327" stroke-width="3.2" stroke-linecap="round" opacity="0.85"/>
<path d="M600.9 157.0 Q604.0 163.9 613.9 164.3" fill="none" stroke="#5e5543" stroke-width="2.8" stroke-linecap="round" opacity="0.85"/>
<path d="M493.9 255.8 Q497.9 257.4 496.9 252.4" fill="none" stroke="#c9bea0" stroke-width="3.4" stroke-linecap="round" opacity="0.85"/>
<path d="M615.6 234.5 Q617.9 232.1 620.9 234.5" fill="none" stroke="#3a3327" stroke-width="2.0" stroke-linecap="round" opacity="0.85"/>
<path d="M473.3 200.9 Q476.7 201.1 478.5 199.1" fill="none" stroke="#6e5a3a" stroke-width="2.1" stroke-linecap="round" opacity="0.85"/>
<path d="M607.3 224.3 Q615.6 226.0 620.2 231.8" fill="none" stroke="#4a4132" stroke-width="2.3" stroke-linecap="round" opacity="0.85"/>
<path d="M506.3 221.0 Q512.9 219.3 517.6 214.0" fill="none" stroke="#e8e2cc" stroke-width="2.5" stroke-linecap="round" opacity="0.85"/>
<path d="M576.1 255.5 Q582.5 257.1 581.1 252.0" fill="none" stroke="#6e5a3a" stroke-width="1.3" stroke-linecap="round" opacity="0.85"/>
<path d="M453.1 187.9 Q454.2 188.3 461.7 187.9" fill="none" stroke="#4a4132" stroke-width="2.9" stroke-linecap="round" opacity="0.85"/>
<path d="M636.3 172.5 Q638.9 173.1 641.8 176.1" fill="none" stroke="#ded6bd" stroke-width="2.0" stroke-linecap="round" opacity="0.85"/>
<path d="M600.1 267.4 Q604.3 266.6 603.5 263.9" fill="none" stroke="#a98a5c" stroke-width="2.2" stroke-linecap="round" opacity="0.85"/>
<path d="M600.7 204.6 Q605.4 203.5 604.8 200.7" fill="none" stroke="#8a6a40" stroke-width="2.4" stroke-linecap="round" opacity="0.85"/>
<path d="M600.4 278.9 Q601.2 280.2 608.4 275.5" fill="none" stroke="#4a4132" stroke-width="2.4" stroke-linecap="round" opacity="0.85"/>
<path d="M532.9 229.5 Q541.7 223.9 545.4 226.2" fill="none" stroke="#8a6a40" stroke-width="1.7" stroke-linecap="round" opacity="0.85"/>
<path d="M582.4 161.4 Q587.5 160.3 589.6 162.6" fill="none" stroke="#c9bea0" stroke-width="1.7" stroke-linecap="round" opacity="0.85"/>
<path d="M581.3 195.8 Q587.0 193.3 593.7 189.3" fill="none" stroke="#6e5a3a" stroke-width="3.2" stroke-linecap="round" opacity="0.85"/>
<path d="M534.2 262.4 Q536.6 264.2 540.6 259.0" fill="none" stroke="#2f2a20" stroke-width="1.7" stroke-linecap="round" opacity="0.85"/>
<path d="M517.8 201.2 Q520.6 197.3 525.2 198.3" fill="none" stroke="#9b9078" stroke-width="2.0" stroke-linecap="round" opacity="0.85"/>
<path d="M523.9 171.7 Q524.6 167.9 531.8 164.8" fill="none" stroke="#8a6a40" stroke-width="3.0" stroke-linecap="round" opacity="0.85"/>
<path d="M487.6 158.1 Q486.2 159.4 492.5 155.2" fill="none" stroke="#5e5543" stroke-width="1.3" stroke-linecap="round" opacity="0.85"/>
<path d="M557.6 260.3 Q561.1 261.6 560.7 256.6" fill="none" stroke="#4a4132" stroke-width="1.3" stroke-linecap="round" opacity="0.85"/>
<path d="M580.5 163.6 Q588.4 161.5 592.8 159.5" fill="none" stroke="#2f2a20" stroke-width="1.9" stroke-linecap="round" opacity="0.85"/>
<path d="M538.7 199.1 Q541.5 196.1 550.2 193.3" fill="none" stroke="#e8e2cc" stroke-width="1.4" stroke-linecap="round" opacity="0.85"/>
<path d="M572.9 156.5 Q576.9 155.9 583.2 163.2" fill="none" stroke="#5e5543" stroke-width="3.0" stroke-linecap="round" opacity="0.85"/>
<path d="M631.1 284.1 Q638.2 285.6 642.0 282.3" fill="none" stroke="#5e5543" stroke-width="3.2" stroke-linecap="round" opacity="0.85"/>
<path d="M636.8 184.4 Q641.2 183.0 642.6 184.5" fill="none" stroke="#5e5543" stroke-width="2.1" stroke-linecap="round" opacity="0.85"/>
<path d="M502.8 285.8 Q501.7 285.8 506.9 283.5" fill="none" stroke="#c9bea0" stroke-width="3.2" stroke-linecap="round" opacity="0.85"/>
<path d="M601.9 152.4 Q604.9 151.3 610.9 155.0" fill="none" stroke="#ded6bd" stroke-width="1.7" stroke-linecap="round" opacity="0.85"/>
<path d="M490.6 250.4 Q492.3 245.5 499.1 244.1" fill="none" stroke="#c9bea0" stroke-width="3.2" stroke-linecap="round" opacity="0.85"/>
<path d="M641.5 237.7 Q651.5 236.8 655.8 236.0" fill="none" stroke="#5e5543" stroke-width="3.2" stroke-linecap="round" opacity="0.85"/>
<path d="M513.5 226.6 Q518.4 221.4 527.7 223.3" fill="none" stroke="#c9bea0" stroke-width="3.0" stroke-linecap="round" opacity="0.85"/>
<path d="M522.8 223.9 Q530.8 222.6 531.0 218.7" fill="none" stroke="#a98a5c" stroke-width="3.2" stroke-linecap="round" opacity="0.85"/>
<path d="M627.9 276.7 Q631.0 277.2 635.3 271.6" fill="none" stroke="#5e5543" stroke-width="1.5" stroke-linecap="round" opacity="0.85"/>
<path d="M509.2 186.3 Q517.0 189.1 522.5 184.0" fill="none" stroke="#8a6a40" stroke-width="2.3" stroke-linecap="round" opacity="0.85"/>
<path d="M451.4 230.1 Q457.0 225.4 456.0 226.3" fill="none" stroke="#c9bea0" stroke-width="1.4" stroke-linecap="round" opacity="0.85"/>
<path d="M498.0 250.3 Q500.2 253.4 503.0 249.1" fill="none" stroke="#9b9078" stroke-width="2.4" stroke-linecap="round" opacity="0.85"/>
<path d="M548.8 152.7 Q552.6 153.0 553.5 148.8" fill="none" stroke="#b5aa8c" stroke-width="1.7" stroke-linecap="round" opacity="0.85"/>
<path d="M556.8 223.6 Q558.0 223.0 562.2 225.5" fill="none" stroke="#4a4132" stroke-width="2.4" stroke-linecap="round" opacity="0.85"/>
<path d="M654.4 243.4 Q653.0 242.9 657.4 239.7" fill="none" stroke="#6e5a3a" stroke-width="2.2" stroke-linecap="round" opacity="0.85"/>
<path d="M647.9 266.2 Q650.0 263.2 654.1 256.9" fill="none" stroke="#a98a5c" stroke-width="1.8" stroke-linecap="round" opacity="0.85"/>
<path d="M464.4 258.1 Q472.4 263.6 477.0 262.7" fill="none" stroke="#c9bea0" stroke-width="1.8" stroke-linecap="round" opacity="0.85"/>
<path d="M520.8 225.6 Q523.2 225.3 527.4 222.3" fill="none" stroke="#8a6a40" stroke-width="1.6" stroke-linecap="round" opacity="0.85"/>
<path d="M521.0 165.3 Q523.9 164.5 527.2 161.4" fill="none" stroke="#b5aa8c" stroke-width="3.0" stroke-linecap="round" opacity="0.85"/>
<path d="M459.8 169.7 Q464.0 167.4 464.9 170.1" fill="none" stroke="#5e5543" stroke-width="1.3" stroke-linecap="round" opacity="0.85"/>
<path d="M539.6 248.6 Q545.0 245.9 542.6 244.4" fill="none" stroke="#4a4132" stroke-width="2.0" stroke-linecap="round" opacity="0.85"/>
<path d="M617.0 279.8 Q616.3 279.6 621.3 276.3" fill="none" stroke="#b5aa8c" stroke-width="1.9" stroke-linecap="round" opacity="0.85"/>
<path d="M528.6 152.2 Q536.6 155.0 537.0 153.2" fill="none" stroke="#6e5a3a" stroke-width="3.4" stroke-linecap="round" opacity="0.85"/>
<path d="M553.9 186.5 Q556.1 185.5 559.2 183.5" fill="none" stroke="#a98a5c" stroke-width="2.3" stroke-linecap="round" opacity="0.85"/>
<path d="M609.5 265.5 Q615.6 265.1 617.4 258.2" fill="none" stroke="#2f2a20" stroke-width="1.7" stroke-linecap="round" opacity="0.85"/>
<path d="M571.6 221.9 Q579.1 222.6 579.6 215.4" fill="none" stroke="#e8e2cc" stroke-width="3.0" stroke-linecap="round" opacity="0.85"/>
<path d="M482.4 282.3 Q483.3 276.8 490.8 275.4" fill="none" stroke="#9b9078" stroke-width="2.1" stroke-linecap="round" opacity="0.85"/>
<path d="M511.7 162.8 Q520.5 158.8 523.1 155.5" fill="none" stroke="#e8e2cc" stroke-width="1.5" stroke-linecap="round" opacity="0.85"/>
<path d="M634.4 226.1 Q637.5 228.8 644.5 225.0" fill="none" stroke="#ded6bd" stroke-width="2.5" stroke-linecap="round" opacity="0.85"/>
<path d="M466.4 265.5 Q467.6 267.6 472.9 268.5" fill="none" stroke="#c9bea0" stroke-width="1.6" stroke-linecap="round" opacity="0.85"/>
<path d="M557.8 160.7 Q563.3 162.8 561.1 157.8" fill="none" stroke="#6e5a3a" stroke-width="1.5" stroke-linecap="round" opacity="0.85"/>
<path d="M602.6 268.6 Q610.7 270.6 616.5 268.4" fill="none" stroke="#c9bea0" stroke-width="1.6" stroke-linecap="round" opacity="0.85"/>
<path d="M540.6 170.0 Q542.1 169.8 548.8 169.3" fill="none" stroke="#8a6a40" stroke-width="1.7" stroke-linecap="round" opacity="0.85"/>
<path d="M640.3 157.5 Q648.9 157.7 652.8 159.4" fill="none" stroke="#b5aa8c" stroke-width="2.5" stroke-linecap="round" opacity="0.85"/>
<path d="M541.0 207.6 Q548.5 210.2 551.8 208.7" fill="none" stroke="#b5aa8c" stroke-width="3.2" stroke-linecap="round" opacity="0.85"/>
<path d="M539.7 276.8 Q542.1 275.5 550.7 280.4" fill="none" stroke="#2f2a20" stroke-width="1.9" stroke-linecap="round" opacity="0.85"/>
<path d="M551.9 208.8 Q552.2 210.7 555.8 210.7" fill="none" stroke="#5e5543" stroke-width="2.8" stroke-linecap="round" opacity="0.85"/>
<path d="M568.5 255.3 Q568.7 252.1 575.8 254.9" fill="none" stroke="#b5aa8c" stroke-width="1.7" stroke-linecap="round" opacity="0.85"/>
<path d="M627.7 286.2 Q634.1 283.1 633.9 279.3" fill="none" stroke="#6e5a3a" stroke-width="2.1" stroke-linecap="round" opacity="0.85"/>
<path d="M490.7 159.6 Q498.0 166.2 502.7 166.9" fill="none" stroke="#5e5543" stroke-width="2.4" stroke-linecap="round" opacity="0.85"/>
<path d="M475.3 240.9 Q474.9 238.0 481.3 234.7" fill="none" stroke="#c9bea0" stroke-width="1.5" stroke-linecap="round" opacity="0.85"/>
<path d="M555.6 283.1 Q555.6 280.6 558.9 280.8" fill="none" stroke="#4a4132" stroke-width="2.2" stroke-linecap="round" opacity="0.85"/>
<path d="M536.8 224.3 Q537.4 223.0 542.3 224.9" fill="none" stroke="#b5aa8c" stroke-width="3.2" stroke-linecap="round" opacity="0.85"/>
<path d="M506.2 219.8 Q512.0 221.2 518.3 227.4" fill="none" stroke="#8a6a40" stroke-width="3.1" stroke-linecap="round" opacity="0.85"/>
<path d="M588.9 158.3 Q595.6 155.8 595.8 161.0" fill="none" stroke="#6e5a3a" stroke-width="3.1" stroke-linecap="round" opacity="0.85"/>
<path d="M654.0 178.3 Q661.3 171.2 662.4 171.3" fill="none" stroke="#4a4132" stroke-width="1.9" stroke-linecap="round" opacity="0.85"/>
<path d="M615.8 284.6 Q622.2 282.1 622.4 282.3" fill="none" stroke="#b5aa8c" stroke-width="2.1" stroke-linecap="round" opacity="0.85"/>
<path d="M476.4 270.6 Q477.2 272.7 481.7 271.2" fill="none" stroke="#2f2a20" stroke-width="2.7" stroke-linecap="round" opacity="0.85"/>
<path d="M610.0 202.2 Q615.8 202.3 620.3 206.7" fill="none" stroke="#8a6a40" stroke-width="3.2" stroke-linecap="round" opacity="0.85"/>
<path d="M478.8 181.6 Q481.2 178.4 484.3 182.0" fill="none" stroke="#2f2a20" stroke-width="1.4" stroke-linecap="round" opacity="0.85"/>
<path d="M635.1 151.0 Q639.7 150.8 645.4 149.5" fill="none" stroke="#c9bea0" stroke-width="1.8" stroke-linecap="round" opacity="0.85"/>
<path d="M602.5 184.4 Q603.5 187.2 609.5 183.6" fill="none" stroke="#3a3327" stroke-width="2.6" stroke-linecap="round" opacity="0.85"/>
<path d="M637.0 231.9 Q635.3 229.2 640.7 233.6" fill="none" stroke="#6e5a3a" stroke-width="3.2" stroke-linecap="round" opacity="0.85"/>
<path d="M509.0 217.7 Q513.5 217.7 512.7 215.5" fill="none" stroke="#2f2a20" stroke-width="2.8" stroke-linecap="round" opacity="0.85"/>
<path d="M554.3 233.1 Q558.1 229.9 562.8 224.0" fill="none" stroke="#2f2a20" stroke-width="2.9" stroke-linecap="round" opacity="0.85"/>
<path d="M609.1 260.8 Q610.1 260.7 615.6 259.3" fill="none" stroke="#b5aa8c" stroke-width="1.8" stroke-linecap="round" opacity="0.85"/>
<path d="M483.5 285.9 Q488.8 283.9 487.9 284.6" fill="none" stroke="#9b9078" stroke-width="1.2" stroke-linecap="round" opacity="0.85"/>
<path d="M546.7 210.8 Q552.8 205.0 554.1 206.0" fill="none" stroke="#c9bea0" stroke-width="2.5" stroke-linecap="round" opacity="0.85"/>
<path d="M556.8 260.8 Q557.7 254.9 561.6 256.2" fill="none" stroke="#ded6bd" stroke-width="3.0" stroke-linecap="round" opacity="0.85"/>
<path d="M598.8 259.3 Q606.1 258.1 610.9 256.8" fill="none" stroke="#5e5543" stroke-width="1.8" stroke-linecap="round" opacity="0.85"/>
<path d="M474.4 246.7 Q477.2 247.7 487.1 250.1" fill="none" stroke="#ded6bd" stroke-width="2.7" stroke-linecap="round" opacity="0.85"/>
<path d="M591.3 284.0 Q594.8 281.6 596.6 285.1" fill="none" stroke="#e8e2cc" stroke-width="2.2" stroke-linecap="round" opacity="0.85"/>
<path d="M600.2 155.5 Q600.3 156.0 606.2 158.2" fill="none" stroke="#8a6a40" stroke-width="2.2" stroke-linecap="round" opacity="0.85"/>
<path d="M641.1 286.0 Q650.6 287.8 652.5 287.7" fill="none" stroke="#8a6a40" stroke-width="1.8" stroke-linecap="round" opacity="0.85"/>
<path d="M558.7 183.8 Q561.6 184.7 566.7 188.1" fill="none" stroke="#9b9078" stroke-width="1.7" stroke-linecap="round" opacity="0.85"/>
<path d="M474.5 231.9 Q482.4 236.6 489.2 234.6" fill="none" stroke="#9b9078" stroke-width="3.2" stroke-linecap="round" opacity="0.85"/>
<path d="M478.1 270.4 Q482.8 262.4 489.4 261.6" fill="none" stroke="#5e5543" stroke-width="2.0" stroke-linecap="round" opacity="0.85"/>
<path d="M479.5 226.9 Q479.5 224.9 484.0 223.3" fill="none" stroke="#8a6a40" stroke-width="2.2" stroke-linecap="round" opacity="0.85"/>
<path d="M545.4 237.7 Q548.6 236.4 551.2 236.4" fill="none" stroke="#3a3327" stroke-width="2.7" stroke-linecap="round" opacity="0.85"/>
<path d="M518.0 188.4 Q517.7 186.2 521.2 185.7" fill="none" stroke="#6e5a3a" stroke-width="2.8" stroke-linecap="round" opacity="0.85"/>
<path d="M497.8 200.6 Q499.1 204.0 502.7 203.3" fill="none" stroke="#e8e2cc" stroke-width="3.0" stroke-linecap="round" opacity="0.85"/>
<path d="M465.6 289.7 Q474.8 286.9 478.3 286.1" fill="none" stroke="#8a6a40" stroke-width="2.9" stroke-linecap="round" opacity="0.85"/>
<path d="M551.6 157.7 Q551.4 152.5 558.4 152.9" fill="none" stroke="#9b9078" stroke-width="1.5" stroke-linecap="round" opacity="0.85"/>
<path d="M484.8 207.5 Q489.6 208.4 494.0 208.5" fill="none" stroke="#ded6bd" stroke-width="2.8" stroke-linecap="round" opacity="0.85"/>
<path d="M583.2 170.6 Q587.6 168.2 588.6 167.3" fill="none" stroke="#5e5543" stroke-width="2.3" stroke-linecap="round" opacity="0.85"/>
<path d="M516.5 164.4 Q517.6 167.1 524.5 164.2" fill="none" stroke="#e8e2cc" stroke-width="2.6" stroke-linecap="round" opacity="0.85"/>
<path d="M561.7 263.2 Q569.4 262.9 574.4 255.9" fill="none" stroke="#a98a5c" stroke-width="2.4" stroke-linecap="round" opacity="0.85"/>
<path d="M516.0 167.1 Q524.0 162.7 527.5 162.2" fill="none" stroke="#5e5543" stroke-width="1.5" stroke-linecap="round" opacity="0.85"/>
<path d="M546.0 218.6 Q553.7 212.7 558.2 211.2" fill="none" stroke="#5e5543" stroke-width="1.6" stroke-linecap="round" opacity="0.85"/>
<path d="M605.2 199.1 Q613.0 201.4 616.9 197.1" fill="none" stroke="#c9bea0" stroke-width="2.3" stroke-linecap="round" opacity="0.85"/>
<path d="M495.3 269.4 Q501.8 268.0 501.9 272.7" fill="none" stroke="#4a4132" stroke-width="3.2" stroke-linecap="round" opacity="0.85"/>
<path d="M498.5 202.8 Q506.0 202.6 510.0 196.2" fill="none" stroke="#4a4132" stroke-width="1.3" stroke-linecap="round" opacity="0.85"/>
<path d="M514.6 274.8 Q520.2 269.5 523.2 269.2" fill="none" stroke="#b5aa8c" stroke-width="2.0" stroke-linecap="round" opacity="0.85"/>
<path d="M513.4 275.7 Q513.3 272.6 517.7 276.2" fill="none" stroke="#3a3327" stroke-width="2.6" stroke-linecap="round" opacity="0.85"/>
<path d="M528.4 208.2 Q534.7 208.4 535.0 210.4" fill="none" stroke="#5e5543" stroke-width="1.3" stroke-linecap="round" opacity="0.85"/>
<path d="M469.2 221.0 Q476.4 216.7 475.9 218.0" fill="none" stroke="#a98a5c" stroke-width="1.8" stroke-linecap="round" opacity="0.85"/>
<path d="M495.5 180.8 Q503.6 179.1 504.1 185.3" fill="none" stroke="#2f2a20" stroke-width="2.3" stroke-linecap="round" opacity="0.85"/>
<path d="M579.8 226.7 Q587.8 229.9 590.6 225.6" fill="none" stroke="#ded6bd" stroke-width="1.8" stroke-linecap="round" opacity="0.85"/>
<path d="M462.3 152.7 Q466.6 146.0 472.4 144.8" fill="none" stroke="#a98a5c" stroke-width="3.0" stroke-linecap="round" opacity="0.85"/>
<path d="M474.3 237.0 Q477.9 234.9 483.6 236.1" fill="none" stroke="#e8e2cc" stroke-width="2.7" stroke-linecap="round" opacity="0.85"/>
<path d="M547.1 240.5 Q554.4 242.9 555.1 241.5" fill="none" stroke="#4a4132" stroke-width="3.4" stroke-linecap="round" opacity="0.85"/>
<path d="M615.8 274.0 Q619.4 276.7 622.8 276.6" fill="none" stroke="#3a3327" stroke-width="1.6" stroke-linecap="round" opacity="0.85"/>
<path d="M626.3 271.8 Q628.2 272.9 630.1 269.2" fill="none" stroke="#5e5543" stroke-width="1.8" stroke-linecap="round" opacity="0.85"/>
<path d="M576.5 201.5 Q583.7 195.4 585.2 194.0" fill="none" stroke="#9b9078" stroke-width="3.0" stroke-linecap="round" opacity="0.85"/>
<path d="M562.0 208.9 Q570.5 211.3 573.8 208.8" fill="none" stroke="#c9bea0" stroke-width="1.6" stroke-linecap="round" opacity="0.85"/>
<path d="M573.6 190.9 Q578.1 195.4 583.0 196.8" fill="none" stroke="#c9bea0" stroke-width="1.8" stroke-linecap="round" opacity="0.85"/>
<path d="M498.3 185.3 Q505.0 180.3 508.8 181.1" fill="none" stroke="#c9bea0" stroke-width="2.8" stroke-linecap="round" opacity="0.85"/>
<path d="M465.5 155.9 Q472.9 153.5 472.5 157.1" fill="none" stroke="#ded6bd" stroke-width="3.2" stroke-linecap="round" opacity="0.85"/>
<path d="M619.0 269.8 Q620.4 270.4 622.7 265.2" fill="none" stroke="#6e5a3a" stroke-width="1.8" stroke-linecap="round" opacity="0.85"/>
<path d="M524.2 236.5 Q528.6 241.4 534.7 243.2" fill="none" stroke="#2f2a20" stroke-width="1.8" stroke-linecap="round" opacity="0.85"/>
<path d="M626.3 211.9 Q636.1 214.2 639.4 210.5" fill="none" stroke="#5e5543" stroke-width="1.5" stroke-linecap="round" opacity="0.85"/>
<path d="M509.6 152.7 Q514.3 147.3 516.9 145.6" fill="none" stroke="#a98a5c" stroke-width="1.4" stroke-linecap="round" opacity="0.85"/>
<path d="M483.2 227.2 Q483.0 225.8 490.6 220.2" fill="none" stroke="#6e5a3a" stroke-width="1.4" stroke-linecap="round" opacity="0.85"/>
<path d="M479.2 217.7 Q488.0 212.9 490.9 208.3" fill="none" stroke="#5e5543" stroke-width="2.0" stroke-linecap="round" opacity="0.85"/>
<path d="M560.4 228.0 Q566.2 226.0 566.7 227.9" fill="none" stroke="#a98a5c" stroke-width="3.3" stroke-linecap="round" opacity="0.85"/>
<path d="M625.9 289.2 Q631.9 288.1 634.3 292.1" fill="none" stroke="#3a3327" stroke-width="3.3" stroke-linecap="round" opacity="0.85"/>
<path d="M555.9 244.5 Q558.3 238.1 559.9 238.8" fill="none" stroke="#b5aa8c" stroke-width="1.2" stroke-linecap="round" opacity="0.85"/>
<path d="M485.2 284.3 Q489.7 286.3 489.3 283.7" fill="none" stroke="#e8e2cc" stroke-width="2.3" stroke-linecap="round" opacity="0.85"/>
<path d="M506.2 224.4 Q513.8 229.5 517.1 227.6" fill="none" stroke="#b5aa8c" stroke-width="2.1" stroke-linecap="round" opacity="0.85"/>
<path d="M591.6 185.1 Q596.2 177.1 599.6 173.6" fill="none" stroke="#5e5543" stroke-width="2.8" stroke-linecap="round" opacity="0.85"/>
<path d="M548.8 188.8 Q555.9 187.3 563.7 188.8" fill="none" stroke="#4a4132" stroke-width="3.2" stroke-linecap="round" opacity="0.85"/>
<path d="M509.1 163.2 Q510.6 165.8 516.7 164.6" fill="none" stroke="#2f2a20" stroke-width="1.9" stroke-linecap="round" opacity="0.85"/>
<path d="M484.3 198.6 Q484.4 193.7 489.5 196.4" fill="none" stroke="#5e5543" stroke-width="2.3" stroke-linecap="round" opacity="0.85"/>
<path d="M526.7 195.0 Q528.6 200.5 535.3 200.0" fill="none" stroke="#ded6bd" stroke-width="1.3" stroke-linecap="round" opacity="0.85"/>
<path d="M566.7 231.0 Q573.8 230.1 574.0 229.2" fill="none" stroke="#e8e2cc" stroke-width="3.2" stroke-linecap="round" opacity="0.85"/>
<path d="M614.7 159.8 Q621.4 163.9 622.1 163.6" fill="none" stroke="#2f2a20" stroke-width="3.4" stroke-linecap="round" opacity="0.85"/>
<path d="M471.8 238.9 Q473.6 239.9 480.0 239.1" fill="none" stroke="#b5aa8c" stroke-width="3.1" stroke-linecap="round" opacity="0.85"/>
<path d="M575.2 220.7 Q581.4 218.5 582.2 213.2" fill="none" stroke="#b5aa8c" stroke-width="2.2" stroke-linecap="round" opacity="0.85"/>
<path d="M540.5 267.1 Q545.2 261.6 549.2 263.4" fill="none" stroke="#3a3327" stroke-width="2.4" stroke-linecap="round" opacity="0.85"/>
<path d="M537.1 189.8 Q537.1 188.3 539.9 186.2" fill="none" stroke="#ded6bd" stroke-width="3.4" stroke-linecap="round" opacity="0.85"/>
<path d="M598.7 193.8 Q602.9 200.1 608.8 200.5" fill="none" stroke="#c9bea0" stroke-width="2.9" stroke-linecap="round" opacity="0.85"/>
<path d="M632.9 165.5 Q637.9 164.1 638.3 168.3" fill="none" stroke="#4a4132" stroke-width="3.0" stroke-linecap="round" opacity="0.85"/>
<path d="M550.0 289.1 Q553.9 288.0 554.3 290.9" fill="none" stroke="#ded6bd" stroke-width="2.2" stroke-linecap="round" opacity="0.85"/>
<path d="M555.3 271.2 Q559.1 266.1 560.5 267.9" fill="none" stroke="#2f2a20" stroke-width="2.2" stroke-linecap="round" opacity="0.85"/>
<path d="M602.8 272.8 Q601.6 275.2 607.5 271.8" fill="none" stroke="#4a4132" stroke-width="3.0" stroke-linecap="round" opacity="0.85"/>
<path d="M472.6 201.2 Q472.9 202.1 475.6 197.1" fill="none" stroke="#8a6a40" stroke-width="1.5" stroke-linecap="round" opacity="0.85"/>
<path d="M479.1 204.4 Q489.0 200.9 492.4 204.2" fill="none" stroke="#6e5a3a" stroke-width="1.7" stroke-linecap="round" opacity="0.85"/>
<path d="M575.3 272.7 Q581.3 268.4 584.6 265.1" fill="none" stroke="#3a3327" stroke-width="3.0" stroke-linecap="round" opacity="0.85"/>
<path d="M590.5 268.3 Q595.3 266.3 604.9 269.0" fill="none" stroke="#c9bea0" stroke-width="1.6" stroke-linecap="round" opacity="0.85"/>
<path d="M564.8 155.8 Q566.5 154.8 570.7 151.9" fill="none" stroke="#8a6a40" stroke-width="1.6" stroke-linecap="round" opacity="0.85"/>
<path d="M653.9 246.8 Q657.9 243.6 664.9 241.9" fill="none" stroke="#c9bea0" stroke-width="1.4" stroke-linecap="round" opacity="0.85"/>
<path d="M497.2 202.4 Q498.8 196.6 506.3 196.8" fill="none" stroke="#4a4132" stroke-width="2.0" stroke-linecap="round" opacity="0.85"/>
<path d="M591.3 182.9 Q598.7 178.5 600.2 177.5" fill="none" stroke="#4a4132" stroke-width="2.7" stroke-linecap="round" opacity="0.85"/>
<path d="M537.8 280.7 Q542.7 281.1 545.9 282.3" fill="none" stroke="#4a4132" stroke-width="2.0" stroke-linecap="round" opacity="0.85"/>
<path d="M511.7 231.8 Q517.7 224.9 521.1 225.7" fill="none" stroke="#9b9078" stroke-width="1.7" stroke-linecap="round" opacity="0.85"/>
</g>
<path d="M490.0 272.0 C492.6 269.2 495.4 268.7 500.6 269.4 C505.8 270.1 513.0 273.9 521.0 276.0 C529.0 278.1 541.8 281.3 548.8 282.3 C555.7 283.3 558.0 283.0 562.5 281.8 C567.0 280.5 570.5 278.5 576.0 275.0 C581.5 271.5 588.6 265.6 595.5 261.0 C602.4 256.4 610.2 252.4 617.5 247.4 C624.8 242.4 632.6 236.3 639.5 231.0 C646.4 225.7 653.2 220.8 658.8 215.8 C664.2 210.7 669.2 204.5 672.5 200.6 C675.8 196.7 677.2 191.7 678.5 192.4 C679.8 193.1 680.6 201.7 680.5 205.0 C680.4 208.3 679.4 208.3 678.0 212.0 C676.6 215.7 674.3 222.3 672.0 227.0 C669.7 231.7 667.7 234.5 664.0 240.0 C660.3 245.5 654.7 254.2 650.0 260.0 C645.3 265.8 641.5 270.0 636.0 275.0 C630.5 280.0 623.0 285.8 617.0 290.0 C611.0 294.2 606.8 296.8 600.0 300.0 C593.2 303.2 582.7 307.2 576.0 309.0 C569.3 310.8 566.8 310.5 560.0 311.0 C553.2 311.5 545.0 312.5 535.0 312.0 C525.0 311.5 507.8 310.0 500.0 308.0 C492.2 306.0 490.5 303.7 488.0 300.0 C485.5 296.3 484.7 290.7 485.0 286.0 C485.3 281.3 487.4 274.8 490.0 272.0 Z" fill="url(#gbody)" />
<path d="M485.5 283.5 C491.0 281.9 509.6 288.4 521.0 290.5 C532.4 292.6 544.8 295.8 554.0 296.0 C563.2 296.2 567.7 295.4 576.0 292.0 C584.3 288.6 594.1 281.9 603.8 275.5 C613.4 269.1 624.4 261.3 634.0 253.5 C643.6 245.7 654.4 236.5 661.5 228.8 C668.6 221.0 673.7 209.2 676.6 206.8 C679.5 204.3 679.8 210.6 679.0 214.0 C678.2 217.4 674.5 222.7 672.0 227.0 C669.5 231.3 667.7 234.5 664.0 240.0 C660.3 245.5 654.7 254.2 650.0 260.0 C645.3 265.8 641.5 270.0 636.0 275.0 C630.5 280.0 623.0 285.8 617.0 290.0 C611.0 294.2 606.8 296.8 600.0 300.0 C593.2 303.2 582.7 307.2 576.0 309.0 C569.3 310.8 566.8 310.5 560.0 311.0 C553.2 311.5 545.0 312.5 535.0 312.0 C525.0 311.5 507.8 310.0 500.0 308.0 C492.2 306.0 490.4 304.1 488.0 300.0 C485.6 295.9 480.0 285.1 485.5 283.5 Z" fill="#c8bc94" />
<path d="M380.0 253.0 L390.0 238.0 L405.0 231.0 L420.0 237.0 L435.0 240.0 L455.0 250.0 L470.0 268.0 L488.0 280.0 L490.0 298.0 L480.0 290.0 L470.0 276.0 L455.0 257.0 L435.0 247.0 L415.0 246.0 L402.0 250.0 L392.0 262.0 Z" fill="#d6cba8" />
<path d="M500.6 269.4 C504.0 270.5 513.0 273.9 521.0 276.0 C529.0 278.1 541.8 281.3 548.8 282.3 C555.7 283.3 558.0 283.0 562.5 281.8 C567.0 280.5 570.5 278.5 576.0 275.0 C581.5 271.5 588.6 265.6 595.5 261.0 C602.4 256.4 610.2 252.4 617.5 247.4 C624.8 242.4 632.6 236.3 639.5 231.0 C646.4 225.7 653.2 220.8 658.8 215.8 C664.2 210.7 669.2 204.5 672.5 200.6 C675.8 196.7 677.5 193.8 678.5 192.4" fill="none" stroke="#5f543c" stroke-width="1.5" />
<path d="M500.6 271.6 C504.0 272.7 513.0 276.1 521.0 278.2 C529.0 280.3 541.8 283.5 548.8 284.5 C555.8 285.5 558.3 285.2 563.0 284.0 C567.7 282.8 571.4 280.7 577.0 277.2 C582.6 273.7 589.6 267.8 596.5 263.2 C603.4 258.6 611.2 254.6 618.5 249.6 C625.8 244.6 633.6 238.5 640.5 233.2 C647.4 227.9 654.2 223.1 659.8 218.0 C665.2 212.9 670.2 206.7 673.5 202.8 C676.8 198.9 678.5 196.0 679.5 194.6" fill="none" stroke="#f5f0de" stroke-width="1.6" />
<path d="M485.5 281.8 C491.4 282.9 509.6 286.6 521.0 288.6 C532.4 290.6 544.8 293.8 554.0 294.0 C563.2 294.2 567.7 293.4 576.0 290.0 C584.3 286.6 594.1 279.9 603.8 273.5 C613.4 267.1 624.4 259.3 634.0 251.5 C643.6 243.7 654.4 234.5 661.5 226.8 C668.6 219.0 674.1 208.4 676.6 204.8" fill="none" stroke="#9c8f6a" stroke-width="1" />
<path d="M485.5 283.5 C491.4 284.6 509.6 288.3 521.0 290.4 C532.4 292.4 544.8 295.6 554.0 295.8 C563.2 296.0 568.1 295.2 576.5 291.8 C584.9 288.4 594.8 281.7 604.5 275.3 C614.2 268.9 625.3 261.1 635.0 253.3 C644.7 245.5 655.4 236.3 662.5 228.5 C669.6 220.7 675.1 210.2 677.6 206.5" fill="none" stroke="#e9e2ca" stroke-width="1.2" />
<path d="M653.5 145.0 L661.5 152.5 L667.6 166.5 L669.0 178.0 L664.0 188.0 L656.0 195.0 L657.0 173.5 L654.0 158.0 Z" fill="#15a5a2" />
<path d="M657.0 158.0 L666.0 160.0" fill="none" stroke="#a5e6e0" stroke-width="1.2" />
<path d="M658.0 168.0 L668.0 171.0" fill="none" stroke="#a5e6e0" stroke-width="1.2" />
<path d="M660.0 180.0 L669.0 183.0" fill="none" stroke="#a5e6e0" stroke-width="1.2" />
<path d="M497.0 240.0 C499.0 235.3 504.8 231.9 512.0 229.0 C519.2 226.1 532.3 222.7 540.0 222.5 C547.7 222.3 554.0 224.1 558.0 228.0 C562.0 231.9 565.0 240.8 564.0 246.0 C563.0 251.2 559.3 256.0 552.0 259.0 C544.7 262.0 528.7 264.3 520.0 264.0 C511.3 263.7 503.8 261.0 500.0 257.0 C496.2 253.0 495.0 244.7 497.0 240.0 Z" fill="#17a59f" />
<path d="M508.0 241.0 C510.3 237.7 521.7 233.7 528.0 233.0 C534.3 232.3 542.3 234.5 546.0 237.0 C549.7 239.5 552.0 245.0 550.0 248.0 C548.0 251.0 540.0 254.2 534.0 255.0 C528.0 255.8 518.3 255.3 514.0 253.0 C509.7 250.7 505.7 244.3 508.0 241.0 Z" fill="#6cc9c2" />
<path d="M516.0 243.0 C517.7 241.3 526.0 239.0 530.0 239.0 C534.0 239.0 539.3 241.3 540.0 243.0 C540.7 244.7 537.3 248.0 534.0 249.0 C530.7 250.0 523.0 250.0 520.0 249.0 C517.0 248.0 514.3 244.7 516.0 243.0 Z" fill="#c6ebe6" />
<path d="M506.0 250.0 C510.0 249.0 523.0 246.3 530.0 244.0 C537.0 241.7 545.0 237.3 548.0 236.0" fill="none" stroke="#0e7d78" stroke-width="1.2" />
<path d="M594.8 214.5 L637.3 185.3 L640.7 197.3 L592.3 229.5 Z" fill="#f4f4f2" />
<path d="M591.5 216.5 L595.5 214.0 L594.0 228.5 L590.5 230.5 Z" fill="#e7d437" />
<text transform="translate(597,225.6) skewY(-33.6)" font-family="Liberation Sans, sans-serif" font-weight="bold" font-size="13.5" textLength="41" lengthAdjust="spacingAndGlyphs" fill="#15151a">S NK000A</text>
<path d="M573.5 304.0 L586.0 300.5 L591.0 303.0 L588.0 308.5 L576.0 309.0 Z" fill="#77736a" />
<ellipse cx="577.0" cy="306.5" rx="2.6" ry="2.2" fill="#3a3833" />
<path d="M225.0 212.0 L252.0 211.0 L350.0 240.0 L380.0 253.0 L392.0 262.0 L397.0 286.5 L370.0 276.0 L320.0 258.5 L257.5 234.5 L228.0 221.0 Z" fill="url(#gsill)" />
<path d="M230.0 216.5 L330.0 248.0 L394.0 272.0" fill="none" stroke="#f6f1e0" stroke-width="1.8" />
<path d="M229.0 220.5 L257.5 233.5 L320.0 257.5 L370.0 275.0 L396.5 285.5" fill="none" stroke="#8f8260" stroke-width="1.2" />
<path d="M231.0 219.0 L330.0 252.5 L395.0 277.0" fill="none" stroke="#b8ab84" stroke-width="1" />
<path d="M251.0 154.0 L300.0 160.0 L352.0 170.0 L420.0 192.0 L455.0 200.0 L470.0 215.0 L455.0 232.0 L420.0 237.0 L405.0 231.0 L390.0 238.0 L380.0 253.0 L350.0 240.0 L252.0 211.0 L247.0 186.0 L236.0 162.0 Z" fill="#ddd5b6" opacity="0.30"/>
<path d="M258.0 176.0 L300.0 186.0 L340.0 196.0 L356.0 200.0 L384.0 226.0 L380.0 238.0 L350.0 232.0 L258.0 203.0 Z" fill="#4b4737" />
<path d="M280.0 186.0 L320.0 194.0 L340.0 204.0 L300.0 212.0 L270.0 200.0 Z" fill="#625d49" />
<path d="M300.0 204.0 C302.3 200.5 311.3 198.3 318.0 197.0 C324.7 195.7 335.0 193.8 340.0 196.0 C345.0 198.2 347.3 205.0 348.0 210.0 C348.7 215.0 348.3 223.0 344.0 226.0 C339.7 229.0 328.7 229.3 322.0 228.0 C315.3 226.7 307.7 222.0 304.0 218.0 C300.3 214.0 297.7 207.5 300.0 204.0 Z" fill="#38342a" />
<path d="M316.0 208.5 L335.0 192.0 L339.0 205.0 L336.0 222.0 L329.0 219.5 Z" fill="#20ccbe" />
<path d="M296.0 205.5 L300.0 204.5 L306.0 215.0 L302.5 216.0 Z" fill="#20ccbe" />
<path d="M356.0 196.0 L384.0 204.0 L386.0 230.0 L358.0 224.0 Z" fill="#6f684f" />
<path d="M363.0 199.0 L364.0 225.0" fill="none" stroke="#4a4533" stroke-width="1.2" />
<path d="M370.0 201.0 L371.0 227.0" fill="none" stroke="#4a4533" stroke-width="1.2" />
<path d="M377.0 203.0 L378.0 229.0" fill="none" stroke="#4a4533" stroke-width="1.2" />
<path d="M386.0 216.0 L414.0 221.0 L440.0 226.0 L462.0 222.0 L455.0 232.0 L420.0 237.0 L405.0 231.0 L392.0 236.0 L384.0 228.0 Z" fill="#60573f" />
<path d="M386.0 216.0 L414.0 221.0 L440.0 226.0 L462.0 222.0" fill="none" stroke="#3a3528" stroke-width="1.4" />
<path d="M251.0 154.0 L420.0 192.0 L470.0 203.0 L500.0 211.0 L540.0 221.0 L538.0 225.0 L498.0 216.0 L468.0 208.0 L420.0 198.0 L251.0 160.0 Z" fill="#e3dcc0" opacity="0.78"/>
<path d="M251.0 160.0 L420.0 198.0 L468.0 208.0 L468.0 214.0 L420.0 206.0 L340.0 188.0 L251.0 172.0 Z" fill="#b9b399" opacity="0.55"/>
<path d="M340.0 168.0 L344.0 169.0 L345.0 234.0 L341.0 233.0 Z" fill="#c4bea6" opacity="0.7"/>
<path d="M240.0 160.0 L252.0 158.0 L262.0 210.0 L252.0 211.0 L247.0 186.0 Z" fill="#d5ccab" opacity="0.8"/>
<path d="M288.0 173.0 L316.0 176.0 L326.0 180.0 L326.0 191.0 L300.0 190.0 L288.0 185.0 Z" fill="#c9c9da" />
<path d="M291.0 176.0 L312.0 178.0 L312.0 186.0 L291.0 183.0 Z" fill="#a9a9c2" />
<ellipse cx="328.0" cy="186.0" rx="9.5" ry="6.0" fill="#ebebe8" transform="rotate(10 328.0 186.0)" />
<ellipse cx="328.0" cy="185.5" rx="5.0" ry="3.0" fill="#bdbdb6" transform="rotate(10 328.0 185.5)" />
<path d="M386.0 200.0 L411.0 204.0 L413.0 219.0 L391.0 217.0 Z" fill="#cfcfdd" />
<path d="M390.0 204.0 L407.0 207.0 L407.0 214.0 L391.0 212.0 Z" fill="#aeaec6" />
<path d="M170.0 190.0 C169.3 186.0 170.7 180.2 172.0 176.0 C173.3 171.8 175.0 168.0 178.0 165.0 C181.0 162.0 185.7 159.2 190.0 158.0 C194.3 156.8 200.7 156.7 204.0 158.0 C207.3 159.3 208.7 161.3 210.0 166.0 C211.3 170.7 213.7 180.3 212.0 186.0 C210.3 191.7 203.7 198.3 200.0 200.0 C196.3 201.7 194.0 196.0 190.0 196.0 C186.0 196.0 179.3 201.0 176.0 200.0 C172.7 199.0 170.7 194.0 170.0 190.0 Z" fill="#25241f" />
<path d="M204.0 158.0 L222.0 156.0 L236.0 164.0 L247.0 186.0 L252.0 211.0 L228.0 213.0 L216.0 196.0 L208.0 172.0 Z" fill="#8f8b7d" />
<path d="M162.0 142.0 C162.9 140.3 164.0 140.8 166.0 140.0 C168.0 139.2 170.0 138.1 174.0 137.0 C178.0 135.9 184.7 134.3 190.0 133.6 C195.3 132.9 199.3 133.3 206.0 133.0 C212.7 132.7 225.7 130.5 230.0 132.0 C234.3 133.5 232.3 139.0 232.0 142.0 C231.7 145.0 230.8 148.3 228.0 150.0 C225.2 151.7 217.3 150.5 215.0 152.0 C212.7 153.5 215.3 157.9 214.0 159.0 C212.7 160.1 210.0 158.8 207.0 158.5 C204.0 158.2 199.8 156.8 196.0 157.0 C192.2 157.2 187.3 158.0 184.0 159.5 C180.7 161.0 177.9 163.2 176.0 166.0 C174.1 168.8 173.2 172.7 172.5 176.0 C171.8 179.3 171.7 183.4 171.5 186.0 C171.3 188.6 172.2 190.7 171.5 191.5 C170.8 192.3 168.4 191.9 167.0 191.0 C165.6 190.1 164.0 188.3 163.0 186.0 C162.0 183.7 161.6 180.7 161.2 177.0 C160.8 173.3 160.7 168.5 160.6 164.0 C160.5 159.5 160.2 153.7 160.4 150.0 C160.6 146.3 161.1 143.7 162.0 142.0 Z" fill="url(#gfender)" />
<path d="M165.0 142.0 C169.5 139.2 182.2 136.7 190.0 135.5 C197.8 134.3 211.7 134.3 212.0 135.0 C212.3 135.7 199.3 137.5 192.0 139.5 C184.7 141.5 172.8 144.9 168.0 147.0 C163.2 149.1 163.5 152.8 163.0 152.0 C162.5 151.2 160.5 144.8 165.0 142.0 Z" fill="#fdfbf3" />
<path d="M222.0 139.0 L232.0 137.0 L236.0 147.0 L238.0 166.0 L224.0 162.0 Z" fill="#d6ccac" />
<path d="M205.0 131.0 C206.9 129.2 213.4 127.5 217.6 127.5 C221.8 127.5 227.8 129.4 230.0 131.0 C232.2 132.6 233.0 135.3 231.0 137.0 C229.0 138.7 222.2 140.8 218.0 141.0 C213.8 141.2 208.2 139.7 206.0 138.0 C203.8 136.3 203.1 132.8 205.0 131.0 Z" fill="#8a8478" />
<path d="M211.0 140.0 L224.0 140.0 L223.0 160.0 L213.0 160.0 Z" fill="#9a9284" />
<path d="M212.0 145.0 L224.0 145.0" fill="none" stroke="#4d493f" stroke-width="1.2" />
<path d="M212.0 150.0 L224.0 150.0" fill="none" stroke="#4d493f" stroke-width="1.2" />
<path d="M212.0 155.0 L224.0 155.0" fill="none" stroke="#4d493f" stroke-width="1.2" />
<path d="M438.0 244.0 L476.0 262.0 L490.0 298.0 L458.0 286.0 L450.0 260.0 Z" fill="#75684d" />
<path d="M446.0 250.0 L470.0 270.0" fill="none" stroke="#4d4535" stroke-width="1.5" />
<path d="M452.0 262.0 L480.0 282.0" fill="none" stroke="#5e553f" stroke-width="1.5" />
<path d="M444.0 258.0 L458.0 282.0" fill="none" stroke="#b5aa8c" stroke-width="1.2" />
<path d="M391.0 266.0 C391.0 261.0 393.5 257.1 396.0 254.0 C398.5 250.9 402.3 249.0 406.0 247.5 C409.7 246.0 413.7 245.6 418.0 245.0 C422.3 244.4 427.3 243.5 432.0 244.0 C436.7 244.5 442.5 245.0 446.0 248.0 C449.5 251.0 451.0 256.0 453.0 262.0 C455.0 268.0 460.2 283.0 458.0 284.0 C455.8 285.0 446.3 272.3 440.0 268.0 C433.7 263.7 426.0 258.7 420.0 258.0 C414.0 257.3 408.0 259.7 404.0 264.0 C400.0 268.3 398.2 283.7 396.0 284.0 C393.8 284.3 391.0 271.0 391.0 266.0 Z" fill="#3d392c" />
<use href="#fwheel"/>
<path d="M204.0 158.0 L222.0 156.0 L236.0 164.0 L247.0 186.0 L252.0 211.0 L228.0 213.0 L216.0 196.0 L208.0 172.0 Z" fill="#96927f" opacity="0.62"/>
<path d="M212.0 164.0 L240.0 200.0" fill="none" stroke="#5d5a50" stroke-width="1" />
<path d="M218.0 160.0 L246.0 196.0" fill="none" stroke="#5d5a50" stroke-width="1" />
<path d="M210.0 172.0 L232.0 208.0" fill="none" stroke="#5d5a50" stroke-width="1" />
<path d="M240.0 172.0 L214.0 196.0" fill="none" stroke="#6a675c" stroke-width="1" />
<path d="M244.0 184.0 L222.0 208.0" fill="none" stroke="#6a675c" stroke-width="1" />
<path d="M217.0 189.0 L229.0 186.0 L232.0 205.0 L223.0 209.0 Z" fill="#2b35cc" />
<path d="M220.0 192.0 L227.0 190.0 L228.0 198.0 L222.0 200.0 Z" fill="#5560e6" />
<use href="#rwheel"/>
<path d="M455.0 268.0 L476.0 262.0 L488.0 280.0 L492.0 299.0 L458.0 285.0 Z" fill="#d9cfb0" opacity="0.8"/>
<path d="M462.0 284.0 L490.0 296.0 L490.0 308.0 L474.0 300.0 Z" fill="#d9cfb0" opacity="0.45"/>
<path d="M461.0 222.0 L465.0 286.0" fill="none" stroke="#9a917a" stroke-width="2.6" />
</g>
</g>
<!-- route line -->
<g id="route" fill="none" stroke="#f5ee34" stroke-width="4.6" stroke-linejoin="round" stroke-linecap="butt">
<path d="M326 110.500 L256 136 L236 140.500 Q225 144 228 152 L232 162 L247.500 186 L252.500 211 L350 240 L379.500 253 L389 238 Q395 230.500 405 231.200 L420 235.500 L475 262.500 L500 235.500 Q512 226 530 220.500 L592 197"/>
<path d="M580 222.500 L603 207"/>
</g>
<!-- badges on car -->
<g id="badges">
<circle cx="341.200" cy="97" r="21.200" fill="#f90d10"/>
<text class="bd" transform="translate(341,105.800) scale(0.950,1)" font-size="28.300">A</text>
<circle cx="609.100" cy="186.750" r="21.100" fill="#1a94f0"/>
<text class="bd" transform="translate(610,196.400) scale(0.860,1)" font-size="27.200">B</text>
<circle cx="567" cy="238.500" r="21" fill="#f7940f"/>
<text class="bd" transform="translate(565.800,248.600) scale(0.900,1)" font-size="27.200">C</text>
</g>
<!-- legend -->
<g id="legend">
<circle cx="90.550" cy="316.900" r="16.550" fill="#f90d10"/>
<text class="bd" transform="translate(90.200,324.700) scale(0.960,1)" font-size="23.700">A</text>
<circle cx="89.600" cy="362.100" r="16.600" fill="#1a94f0"/>
<text class="bd" transform="translate(89.900,369.500) scale(0.860,1)" font-size="23.700">B</text>
<circle cx="89.750" cy="408.250" r="16.500" fill="#f7940f"/>
<text class="bd" transform="translate(89.400,416) scale(0.900,1)" font-size="23.700">C</text>
<text class="lg" x="126.200" y="319.800" textLength="131.200" lengthAdjust="spacingAndGlyphs">Monitor position</text>
<text class="lg" x="125.900" y="366.800" textLength="127.800" lengthAdjust="spacingAndGlyphs">Camera position</text>
<text class="lg cj" x="252.600" y="368.300">（</text>
<text class="lg" x="275.400" y="366.800" textLength="353.500" lengthAdjust="spacingAndGlyphs">Connect Reversing light Positive and negative</text>
<text class="lg cj" x="633.500" y="368.300">）</text>
<text class="lg" x="125.900" y="415.600" textLength="115.500" lengthAdjust="spacingAndGlyphs">Camera power</text>
</g>
<g id="diagram">
<!-- monitor -->
<g transform="translate(0,0.8)">
<path d="M17 584.400 L27.500 580 L37.500 579 L38.500 583.500 L29.300 588 L19.600 591.500 Z" fill="#e8291d"/>
<path d="M20 586 L28 582 L36 581" fill="none" stroke="#f4705f" stroke-width="1.200"/>
<path d="M58 592.500 L104.500 590.500 L105.500 596 L97.500 600 L69.500 601.300 L60.700 598 Z" fill="#111"/>
<path d="M34.500 524.500 Q34.300 522.800 36.500 522.700 L129 520.600 Q133 520.600 133.600 525.500 L135.200 583.500 Q135.200 590 131 590.800 L44.500 594.200 Q40 594 38.900 590.500 Z" fill="#151515"/>
<path d="M44.100 527.600 L129 526.600 L130.700 580 L47.600 582.700 Z" fill="url(#gscreen)"/>
<path d="M35.500 524 L38.500 524 L40.500 553 L37 553 Z" fill="#2c2c2c"/>
<path d="M36.500 523 L129 521" fill="none" stroke="#3a3a3a" stroke-width="0.800"/>
</g>
<text class="dg" x="146" y="570" font-size="17.800">Monitor</text>
<text class="dg" x="48.300" y="644.300" font-size="13.300" textLength="50" lengthAdjust="spacingAndGlyphs">CCD-IN</text>
<!-- wires -->
<g fill="none" stroke="#1a1a1a" stroke-width="1.550">
<path d="M38.800 611 V675.300 H46" stroke-width="2"/>
<path d="M112 672.600 L129 674" stroke-width="1.500" stroke="#555"/>
<path d="M202 675.700 H385.500"/>
<path d="M277.600 591.400 H347.800 L377 605.200"/>
<path d="M378 608.200 L356 619.200 H286.700 V652"/>
<path d="M278 639.500 H295.500 M281 644.500 H292.500 M283.800 648.300 H289.800 M285.500 651 H288" stroke-width="1.900"/>
<path d="M541 606.700 H608.600 V665.200 H624"/>
<path d="M545 675.400 H624"/>
<path d="M460 672.300 L472.500 672.800" stroke-width="1.500" stroke="#555"/>
</g>
<g fill="none" stroke="#333" stroke-width="1">
<path d="M200.600 688.500 V704.500 M392.300 688.500 V704.500 M201 696.800 H264 M331.500 696.800 H392"/>
</g>
<text class="dg" x="275" y="701.300" font-size="14.670">20 feet</text>
<text class="dg" x="258.500" y="573.700" font-size="14.570">Power from recverse light</text>
<text class="dg" x="475" y="654" font-size="14.670">Video out</text>
<text class="dg" x="652.300" y="604.700" font-size="14.700">Reversing Camera</text>
<!-- RCA connectors -->
<use href="#rca" transform="translate(44.800,675) scale(0.990,1)"/>
<use href="#rca" transform="translate(202.300,675) scale(-0.980,1)"/>
<use href="#rca" transform="translate(391,674.300) scale(1.010,1)"/>
<use href="#rca2" transform="translate(543.400,674.700) scale(-1,0.960)"/>
<!-- red power socket -->
<path d="M382 599.700 L394 599.700 C401 599.700 402 594 410 594 L441 594 Q446.700 594 446.700 599.500 L446.700 608.500 Q446.700 613.900 441 613.900 L410 613.900 C402 613.900 401 610.300 394 610.300 L382 610.300 Q379.800 610.300 379.800 605 Q379.800 599.700 382 599.700 Z" fill="url(#gr)"/>
<path d="M383.500 601.500V608.700M387 601.500V608.700M390.500 601.500V608.700M394 601.500V608.700" stroke="#8e0d0d" stroke-width="1.500"/>
<circle cx="445.200" cy="602" r="1.100" fill="#5a0a0a"/>
<!-- black DC plug -->
<rect x="458.200" y="599.600" width="22" height="10.300" rx="3" fill="#6a6a6a"/>
<rect x="459" y="600.300" width="20" height="3.500" rx="1.700" fill="#9a9a9a"/>
<path d="M477.500 597 Q477.500 595 481 595 L508 595 Q514 596 514 599 L514 611.500 Q514 614.500 508 615.500 L481 615.500 Q477.500 615.500 477.500 613.500 Z" fill="url(#gk)"/>
<path d="M514 601.500 L541 604.500 L541 608.500 L514 611.500 Z" fill="#1b1b1b"/><rect x="515.200" y="598.600" width="3.800" height="15" rx="1" fill="#1b1b1b"/><rect x="520.800" y="599.400" width="4.400" height="13" rx="1.200" fill="#1b1b1b"/><rect x="527.500" y="600.300" width="4.300" height="11" rx="1.200" fill="#1b1b1b"/><rect x="534.200" y="602.300" width="3.400" height="7.400" rx="1" fill="#1b1b1b"/>
<!-- camera -->
<g id="camera">
<path d="M772 651 Q783 645.500 801 651.500" fill="none" stroke="#262626" stroke-width="2.400"/>
<path d="M657.500 641 Q657.500 638.300 661 638.300 L725.500 638.300 L738.500 644.900 L769 644.900 L778.700 650.200 L784 654.500 L787.200 667 L786.200 682 L778.700 683.200 L772 697 L720 698 L700 652 L657.500 652 Z" fill="#2b2b2b"/>
<path d="M660 639.500 L725 639.300 L737.500 645.500 L662 646 Z" fill="#3d3d3d"/>
<path d="M775.700 668.500 L782.500 665.500 L783 670 L779.500 671.500 L779.500 676 L785 675.500 L785 682.500 L776.200 683 Z" fill="#f6f6f6"/>
<path d="M637 658 Q637 651 644 651 L720 651 L720 698 L646 696.500 Q640 696 639 690 Z" fill="url(#glens)"/>
<path d="M638.300 658 Q638.500 652.300 644 652.300 L718 652.300 L718 654.600 L650 655.200 Q644.500 655.500 644 660 L646 672 L644 688 L640 686 Z" fill="#fafafa" opacity="0.900"/>
<path d="M642 690.500 L716 692.500 L716 696.800 L647 695.500 Z" fill="#d9d9d9" opacity="0.850"/>
<rect x="658.700" y="659.700" width="49" height="32" fill="#333"/>
<path d="M659 663.500 H707.500 M659 669.500 H707.500 M659 675.500 H707.500 M659 681.500 H707.500 M659 687.300 H707.500" stroke="#9c9c9c" stroke-width="1.100"/>
<path d="M658.700 659.700 H707.700 V691.700 H658.700 Z" fill="none" stroke="#c4c4c4" stroke-width="0.900"/>
<circle cx="651.500" cy="674" r="3" fill="#4a4a4a" stroke="#8e8e8e" stroke-width="0.800"/>
<path d="M717 651.200 L766 651.200 L765.500 688.500 L764 707.600 L718.200 707.600 L719 688.500 Z" fill="#1a1a1a"/>
<path d="M719.300 653.500 L761.700 653.500 L762.500 688.400 L719.500 688.400 Z" fill="#232323"/>
<path d="M717 651.200 L766 651.200 L761.700 653.500 L719.300 653.500 Z" fill="#404040"/>
<path d="M719.500 688.400 L762.500 688.400 L764 707.600 L718.200 707.600 Z" fill="#131313"/>
<circle cx="741.600" cy="670.400" r="10.800" fill="#0c0c0c"/>
<circle cx="741.600" cy="670.400" r="7.500" fill="#242424"/>
<circle cx="741.600" cy="670.400" r="4.600" fill="#383838"/>
<circle cx="742.800" cy="671.600" r="2" fill="#a6a6a6"/>
</g>

</g>
</svg>
</body>
</html>
